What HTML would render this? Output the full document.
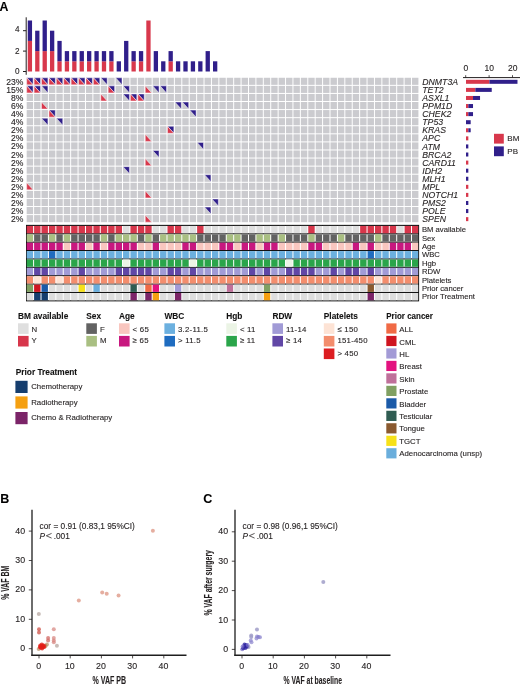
<!DOCTYPE html>
<html><head><meta charset="utf-8"><style>
html,body{margin:0;padding:0;background:#fff;width:520px;height:687px;overflow:hidden;}
body{position:relative;font-family:"Liberation Sans", sans-serif;}
text{stroke:#231f20;stroke-width:0.18px;stroke-opacity:0.6}
svg{will-change:transform}
</style></head><body>
<svg width="520" height="687" viewBox="0 0 520 687" style="position:absolute;left:0;top:0;font-family:'Liberation Sans', sans-serif">
<rect width="520" height="687" fill="#fff"/>
<text x="-0.4" y="10.8" font-size="12.3" font-weight="bold" fill="#000">A</text>
<line x1="26.2" y1="17.3" x2="26.2" y2="74.8" stroke="#231f20" stroke-width="1"/>
<line x1="23" y1="71.50" x2="26.2" y2="71.50" stroke="#231f20" stroke-width="1"/>
<text x="19.5" y="73.90" font-size="8.2" text-anchor="end" fill="#231f20">0</text>
<line x1="23" y1="51.10" x2="26.2" y2="51.10" stroke="#231f20" stroke-width="1"/>
<text x="19.5" y="53.90" font-size="8.2" text-anchor="end" fill="#231f20">2</text>
<line x1="23" y1="30.70" x2="26.2" y2="30.70" stroke="#231f20" stroke-width="1"/>
<text x="19.5" y="32.40" font-size="8.2" text-anchor="end" fill="#231f20">4</text>
<rect x="27.75" y="40.90" width="4.3" height="30.60" fill="#d8384c"/>
<rect x="27.75" y="20.50" width="4.3" height="20.40" fill="#301f8a"/>
<rect x="35.16" y="51.10" width="4.3" height="20.40" fill="#d8384c"/>
<rect x="35.16" y="30.70" width="4.3" height="20.40" fill="#301f8a"/>
<rect x="42.57" y="51.10" width="4.3" height="20.40" fill="#d8384c"/>
<rect x="42.57" y="20.50" width="4.3" height="30.60" fill="#301f8a"/>
<rect x="49.98" y="51.10" width="4.3" height="20.40" fill="#d8384c"/>
<rect x="49.98" y="30.70" width="4.3" height="20.40" fill="#301f8a"/>
<rect x="57.38" y="61.30" width="4.3" height="10.20" fill="#d8384c"/>
<rect x="57.38" y="40.90" width="4.3" height="20.40" fill="#301f8a"/>
<rect x="64.79" y="61.30" width="4.3" height="10.20" fill="#d8384c"/>
<rect x="64.79" y="51.10" width="4.3" height="10.20" fill="#301f8a"/>
<rect x="72.20" y="61.30" width="4.3" height="10.20" fill="#d8384c"/>
<rect x="72.20" y="51.10" width="4.3" height="10.20" fill="#301f8a"/>
<rect x="79.61" y="61.30" width="4.3" height="10.20" fill="#d8384c"/>
<rect x="79.61" y="51.10" width="4.3" height="10.20" fill="#301f8a"/>
<rect x="87.02" y="61.30" width="4.3" height="10.20" fill="#d8384c"/>
<rect x="87.02" y="51.10" width="4.3" height="10.20" fill="#301f8a"/>
<rect x="94.43" y="61.30" width="4.3" height="10.20" fill="#d8384c"/>
<rect x="94.43" y="51.10" width="4.3" height="10.20" fill="#301f8a"/>
<rect x="101.84" y="61.30" width="4.3" height="10.20" fill="#d8384c"/>
<rect x="101.84" y="51.10" width="4.3" height="10.20" fill="#301f8a"/>
<rect x="109.25" y="61.30" width="4.3" height="10.20" fill="#d8384c"/>
<rect x="109.25" y="51.10" width="4.3" height="10.20" fill="#301f8a"/>
<rect x="116.66" y="61.30" width="4.3" height="10.20" fill="#301f8a"/>
<rect x="124.07" y="40.90" width="4.3" height="30.60" fill="#301f8a"/>
<rect x="131.49" y="61.30" width="4.3" height="10.20" fill="#d8384c"/>
<rect x="131.49" y="51.10" width="4.3" height="10.20" fill="#301f8a"/>
<rect x="138.90" y="61.30" width="4.3" height="10.20" fill="#d8384c"/>
<rect x="138.90" y="51.10" width="4.3" height="10.20" fill="#301f8a"/>
<rect x="146.31" y="20.50" width="4.3" height="51.00" fill="#d8384c"/>
<rect x="153.72" y="51.10" width="4.3" height="20.40" fill="#301f8a"/>
<rect x="161.12" y="61.30" width="4.3" height="10.20" fill="#301f8a"/>
<rect x="168.53" y="61.30" width="4.3" height="10.20" fill="#d8384c"/>
<rect x="168.53" y="51.10" width="4.3" height="10.20" fill="#301f8a"/>
<rect x="175.94" y="61.30" width="4.3" height="10.20" fill="#301f8a"/>
<rect x="183.36" y="61.30" width="4.3" height="10.20" fill="#301f8a"/>
<rect x="190.77" y="61.30" width="4.3" height="10.20" fill="#301f8a"/>
<rect x="198.18" y="61.30" width="4.3" height="10.20" fill="#301f8a"/>
<rect x="205.59" y="51.10" width="4.3" height="20.40" fill="#301f8a"/>
<rect x="213.00" y="61.30" width="4.3" height="10.20" fill="#301f8a"/>
<rect x="26.69" y="77.77" width="6.41" height="7.08" fill="#cbcbcf"/>
<rect x="34.10" y="77.77" width="6.41" height="7.08" fill="#cbcbcf"/>
<rect x="41.51" y="77.77" width="6.41" height="7.08" fill="#cbcbcf"/>
<rect x="48.92" y="77.77" width="6.41" height="7.08" fill="#cbcbcf"/>
<rect x="56.33" y="77.77" width="6.41" height="7.08" fill="#cbcbcf"/>
<rect x="63.74" y="77.77" width="6.41" height="7.08" fill="#cbcbcf"/>
<rect x="71.15" y="77.77" width="6.41" height="7.08" fill="#cbcbcf"/>
<rect x="78.56" y="77.77" width="6.41" height="7.08" fill="#cbcbcf"/>
<rect x="85.97" y="77.77" width="6.41" height="7.08" fill="#cbcbcf"/>
<rect x="93.38" y="77.77" width="6.41" height="7.08" fill="#cbcbcf"/>
<rect x="100.79" y="77.77" width="6.41" height="7.08" fill="#cbcbcf"/>
<rect x="108.20" y="77.77" width="6.41" height="7.08" fill="#cbcbcf"/>
<rect x="115.61" y="77.77" width="6.41" height="7.08" fill="#cbcbcf"/>
<rect x="123.02" y="77.77" width="6.41" height="7.08" fill="#cbcbcf"/>
<rect x="130.43" y="77.77" width="6.41" height="7.08" fill="#cbcbcf"/>
<rect x="137.84" y="77.77" width="6.41" height="7.08" fill="#cbcbcf"/>
<rect x="145.25" y="77.77" width="6.41" height="7.08" fill="#cbcbcf"/>
<rect x="152.66" y="77.77" width="6.41" height="7.08" fill="#cbcbcf"/>
<rect x="160.07" y="77.77" width="6.41" height="7.08" fill="#cbcbcf"/>
<rect x="167.48" y="77.77" width="6.41" height="7.08" fill="#cbcbcf"/>
<rect x="174.89" y="77.77" width="6.41" height="7.08" fill="#cbcbcf"/>
<rect x="182.30" y="77.77" width="6.41" height="7.08" fill="#cbcbcf"/>
<rect x="189.71" y="77.77" width="6.41" height="7.08" fill="#cbcbcf"/>
<rect x="197.12" y="77.77" width="6.41" height="7.08" fill="#cbcbcf"/>
<rect x="204.53" y="77.77" width="6.41" height="7.08" fill="#cbcbcf"/>
<rect x="211.94" y="77.77" width="6.41" height="7.08" fill="#cbcbcf"/>
<rect x="219.35" y="77.77" width="6.41" height="7.08" fill="#cbcbcf"/>
<rect x="226.76" y="77.77" width="6.41" height="7.08" fill="#cbcbcf"/>
<rect x="234.17" y="77.77" width="6.41" height="7.08" fill="#cbcbcf"/>
<rect x="241.58" y="77.77" width="6.41" height="7.08" fill="#cbcbcf"/>
<rect x="248.99" y="77.77" width="6.41" height="7.08" fill="#cbcbcf"/>
<rect x="256.40" y="77.77" width="6.41" height="7.08" fill="#cbcbcf"/>
<rect x="263.81" y="77.77" width="6.41" height="7.08" fill="#cbcbcf"/>
<rect x="271.22" y="77.77" width="6.41" height="7.08" fill="#cbcbcf"/>
<rect x="278.63" y="77.77" width="6.41" height="7.08" fill="#cbcbcf"/>
<rect x="286.04" y="77.77" width="6.41" height="7.08" fill="#cbcbcf"/>
<rect x="293.45" y="77.77" width="6.41" height="7.08" fill="#cbcbcf"/>
<rect x="300.86" y="77.77" width="6.41" height="7.08" fill="#cbcbcf"/>
<rect x="308.27" y="77.77" width="6.41" height="7.08" fill="#cbcbcf"/>
<rect x="315.68" y="77.77" width="6.41" height="7.08" fill="#cbcbcf"/>
<rect x="323.09" y="77.77" width="6.41" height="7.08" fill="#cbcbcf"/>
<rect x="330.50" y="77.77" width="6.41" height="7.08" fill="#cbcbcf"/>
<rect x="337.91" y="77.77" width="6.41" height="7.08" fill="#cbcbcf"/>
<rect x="345.32" y="77.77" width="6.41" height="7.08" fill="#cbcbcf"/>
<rect x="352.73" y="77.77" width="6.41" height="7.08" fill="#cbcbcf"/>
<rect x="360.14" y="77.77" width="6.41" height="7.08" fill="#cbcbcf"/>
<rect x="367.55" y="77.77" width="6.41" height="7.08" fill="#cbcbcf"/>
<rect x="374.96" y="77.77" width="6.41" height="7.08" fill="#cbcbcf"/>
<rect x="382.37" y="77.77" width="6.41" height="7.08" fill="#cbcbcf"/>
<rect x="389.78" y="77.77" width="6.41" height="7.08" fill="#cbcbcf"/>
<rect x="397.19" y="77.77" width="6.41" height="7.08" fill="#cbcbcf"/>
<rect x="404.60" y="77.77" width="6.41" height="7.08" fill="#cbcbcf"/>
<rect x="412.01" y="77.77" width="6.41" height="7.08" fill="#cbcbcf"/>
<rect x="26.69" y="85.85" width="6.41" height="7.08" fill="#cbcbcf"/>
<rect x="34.10" y="85.85" width="6.41" height="7.08" fill="#cbcbcf"/>
<rect x="41.51" y="85.85" width="6.41" height="7.08" fill="#cbcbcf"/>
<rect x="48.92" y="85.85" width="6.41" height="7.08" fill="#cbcbcf"/>
<rect x="56.33" y="85.85" width="6.41" height="7.08" fill="#cbcbcf"/>
<rect x="63.74" y="85.85" width="6.41" height="7.08" fill="#cbcbcf"/>
<rect x="71.15" y="85.85" width="6.41" height="7.08" fill="#cbcbcf"/>
<rect x="78.56" y="85.85" width="6.41" height="7.08" fill="#cbcbcf"/>
<rect x="85.97" y="85.85" width="6.41" height="7.08" fill="#cbcbcf"/>
<rect x="93.38" y="85.85" width="6.41" height="7.08" fill="#cbcbcf"/>
<rect x="100.79" y="85.85" width="6.41" height="7.08" fill="#cbcbcf"/>
<rect x="108.20" y="85.85" width="6.41" height="7.08" fill="#cbcbcf"/>
<rect x="115.61" y="85.85" width="6.41" height="7.08" fill="#cbcbcf"/>
<rect x="123.02" y="85.85" width="6.41" height="7.08" fill="#cbcbcf"/>
<rect x="130.43" y="85.85" width="6.41" height="7.08" fill="#cbcbcf"/>
<rect x="137.84" y="85.85" width="6.41" height="7.08" fill="#cbcbcf"/>
<rect x="145.25" y="85.85" width="6.41" height="7.08" fill="#cbcbcf"/>
<rect x="152.66" y="85.85" width="6.41" height="7.08" fill="#cbcbcf"/>
<rect x="160.07" y="85.85" width="6.41" height="7.08" fill="#cbcbcf"/>
<rect x="167.48" y="85.85" width="6.41" height="7.08" fill="#cbcbcf"/>
<rect x="174.89" y="85.85" width="6.41" height="7.08" fill="#cbcbcf"/>
<rect x="182.30" y="85.85" width="6.41" height="7.08" fill="#cbcbcf"/>
<rect x="189.71" y="85.85" width="6.41" height="7.08" fill="#cbcbcf"/>
<rect x="197.12" y="85.85" width="6.41" height="7.08" fill="#cbcbcf"/>
<rect x="204.53" y="85.85" width="6.41" height="7.08" fill="#cbcbcf"/>
<rect x="211.94" y="85.85" width="6.41" height="7.08" fill="#cbcbcf"/>
<rect x="219.35" y="85.85" width="6.41" height="7.08" fill="#cbcbcf"/>
<rect x="226.76" y="85.85" width="6.41" height="7.08" fill="#cbcbcf"/>
<rect x="234.17" y="85.85" width="6.41" height="7.08" fill="#cbcbcf"/>
<rect x="241.58" y="85.85" width="6.41" height="7.08" fill="#cbcbcf"/>
<rect x="248.99" y="85.85" width="6.41" height="7.08" fill="#cbcbcf"/>
<rect x="256.40" y="85.85" width="6.41" height="7.08" fill="#cbcbcf"/>
<rect x="263.81" y="85.85" width="6.41" height="7.08" fill="#cbcbcf"/>
<rect x="271.22" y="85.85" width="6.41" height="7.08" fill="#cbcbcf"/>
<rect x="278.63" y="85.85" width="6.41" height="7.08" fill="#cbcbcf"/>
<rect x="286.04" y="85.85" width="6.41" height="7.08" fill="#cbcbcf"/>
<rect x="293.45" y="85.85" width="6.41" height="7.08" fill="#cbcbcf"/>
<rect x="300.86" y="85.85" width="6.41" height="7.08" fill="#cbcbcf"/>
<rect x="308.27" y="85.85" width="6.41" height="7.08" fill="#cbcbcf"/>
<rect x="315.68" y="85.85" width="6.41" height="7.08" fill="#cbcbcf"/>
<rect x="323.09" y="85.85" width="6.41" height="7.08" fill="#cbcbcf"/>
<rect x="330.50" y="85.85" width="6.41" height="7.08" fill="#cbcbcf"/>
<rect x="337.91" y="85.85" width="6.41" height="7.08" fill="#cbcbcf"/>
<rect x="345.32" y="85.85" width="6.41" height="7.08" fill="#cbcbcf"/>
<rect x="352.73" y="85.85" width="6.41" height="7.08" fill="#cbcbcf"/>
<rect x="360.14" y="85.85" width="6.41" height="7.08" fill="#cbcbcf"/>
<rect x="367.55" y="85.85" width="6.41" height="7.08" fill="#cbcbcf"/>
<rect x="374.96" y="85.85" width="6.41" height="7.08" fill="#cbcbcf"/>
<rect x="382.37" y="85.85" width="6.41" height="7.08" fill="#cbcbcf"/>
<rect x="389.78" y="85.85" width="6.41" height="7.08" fill="#cbcbcf"/>
<rect x="397.19" y="85.85" width="6.41" height="7.08" fill="#cbcbcf"/>
<rect x="404.60" y="85.85" width="6.41" height="7.08" fill="#cbcbcf"/>
<rect x="412.01" y="85.85" width="6.41" height="7.08" fill="#cbcbcf"/>
<rect x="26.69" y="93.93" width="6.41" height="7.08" fill="#cbcbcf"/>
<rect x="34.10" y="93.93" width="6.41" height="7.08" fill="#cbcbcf"/>
<rect x="41.51" y="93.93" width="6.41" height="7.08" fill="#cbcbcf"/>
<rect x="48.92" y="93.93" width="6.41" height="7.08" fill="#cbcbcf"/>
<rect x="56.33" y="93.93" width="6.41" height="7.08" fill="#cbcbcf"/>
<rect x="63.74" y="93.93" width="6.41" height="7.08" fill="#cbcbcf"/>
<rect x="71.15" y="93.93" width="6.41" height="7.08" fill="#cbcbcf"/>
<rect x="78.56" y="93.93" width="6.41" height="7.08" fill="#cbcbcf"/>
<rect x="85.97" y="93.93" width="6.41" height="7.08" fill="#cbcbcf"/>
<rect x="93.38" y="93.93" width="6.41" height="7.08" fill="#cbcbcf"/>
<rect x="100.79" y="93.93" width="6.41" height="7.08" fill="#cbcbcf"/>
<rect x="108.20" y="93.93" width="6.41" height="7.08" fill="#cbcbcf"/>
<rect x="115.61" y="93.93" width="6.41" height="7.08" fill="#cbcbcf"/>
<rect x="123.02" y="93.93" width="6.41" height="7.08" fill="#cbcbcf"/>
<rect x="130.43" y="93.93" width="6.41" height="7.08" fill="#cbcbcf"/>
<rect x="137.84" y="93.93" width="6.41" height="7.08" fill="#cbcbcf"/>
<rect x="145.25" y="93.93" width="6.41" height="7.08" fill="#cbcbcf"/>
<rect x="152.66" y="93.93" width="6.41" height="7.08" fill="#cbcbcf"/>
<rect x="160.07" y="93.93" width="6.41" height="7.08" fill="#cbcbcf"/>
<rect x="167.48" y="93.93" width="6.41" height="7.08" fill="#cbcbcf"/>
<rect x="174.89" y="93.93" width="6.41" height="7.08" fill="#cbcbcf"/>
<rect x="182.30" y="93.93" width="6.41" height="7.08" fill="#cbcbcf"/>
<rect x="189.71" y="93.93" width="6.41" height="7.08" fill="#cbcbcf"/>
<rect x="197.12" y="93.93" width="6.41" height="7.08" fill="#cbcbcf"/>
<rect x="204.53" y="93.93" width="6.41" height="7.08" fill="#cbcbcf"/>
<rect x="211.94" y="93.93" width="6.41" height="7.08" fill="#cbcbcf"/>
<rect x="219.35" y="93.93" width="6.41" height="7.08" fill="#cbcbcf"/>
<rect x="226.76" y="93.93" width="6.41" height="7.08" fill="#cbcbcf"/>
<rect x="234.17" y="93.93" width="6.41" height="7.08" fill="#cbcbcf"/>
<rect x="241.58" y="93.93" width="6.41" height="7.08" fill="#cbcbcf"/>
<rect x="248.99" y="93.93" width="6.41" height="7.08" fill="#cbcbcf"/>
<rect x="256.40" y="93.93" width="6.41" height="7.08" fill="#cbcbcf"/>
<rect x="263.81" y="93.93" width="6.41" height="7.08" fill="#cbcbcf"/>
<rect x="271.22" y="93.93" width="6.41" height="7.08" fill="#cbcbcf"/>
<rect x="278.63" y="93.93" width="6.41" height="7.08" fill="#cbcbcf"/>
<rect x="286.04" y="93.93" width="6.41" height="7.08" fill="#cbcbcf"/>
<rect x="293.45" y="93.93" width="6.41" height="7.08" fill="#cbcbcf"/>
<rect x="300.86" y="93.93" width="6.41" height="7.08" fill="#cbcbcf"/>
<rect x="308.27" y="93.93" width="6.41" height="7.08" fill="#cbcbcf"/>
<rect x="315.68" y="93.93" width="6.41" height="7.08" fill="#cbcbcf"/>
<rect x="323.09" y="93.93" width="6.41" height="7.08" fill="#cbcbcf"/>
<rect x="330.50" y="93.93" width="6.41" height="7.08" fill="#cbcbcf"/>
<rect x="337.91" y="93.93" width="6.41" height="7.08" fill="#cbcbcf"/>
<rect x="345.32" y="93.93" width="6.41" height="7.08" fill="#cbcbcf"/>
<rect x="352.73" y="93.93" width="6.41" height="7.08" fill="#cbcbcf"/>
<rect x="360.14" y="93.93" width="6.41" height="7.08" fill="#cbcbcf"/>
<rect x="367.55" y="93.93" width="6.41" height="7.08" fill="#cbcbcf"/>
<rect x="374.96" y="93.93" width="6.41" height="7.08" fill="#cbcbcf"/>
<rect x="382.37" y="93.93" width="6.41" height="7.08" fill="#cbcbcf"/>
<rect x="389.78" y="93.93" width="6.41" height="7.08" fill="#cbcbcf"/>
<rect x="397.19" y="93.93" width="6.41" height="7.08" fill="#cbcbcf"/>
<rect x="404.60" y="93.93" width="6.41" height="7.08" fill="#cbcbcf"/>
<rect x="412.01" y="93.93" width="6.41" height="7.08" fill="#cbcbcf"/>
<rect x="26.69" y="102.00" width="6.41" height="7.08" fill="#cbcbcf"/>
<rect x="34.10" y="102.00" width="6.41" height="7.08" fill="#cbcbcf"/>
<rect x="41.51" y="102.00" width="6.41" height="7.08" fill="#cbcbcf"/>
<rect x="48.92" y="102.00" width="6.41" height="7.08" fill="#cbcbcf"/>
<rect x="56.33" y="102.00" width="6.41" height="7.08" fill="#cbcbcf"/>
<rect x="63.74" y="102.00" width="6.41" height="7.08" fill="#cbcbcf"/>
<rect x="71.15" y="102.00" width="6.41" height="7.08" fill="#cbcbcf"/>
<rect x="78.56" y="102.00" width="6.41" height="7.08" fill="#cbcbcf"/>
<rect x="85.97" y="102.00" width="6.41" height="7.08" fill="#cbcbcf"/>
<rect x="93.38" y="102.00" width="6.41" height="7.08" fill="#cbcbcf"/>
<rect x="100.79" y="102.00" width="6.41" height="7.08" fill="#cbcbcf"/>
<rect x="108.20" y="102.00" width="6.41" height="7.08" fill="#cbcbcf"/>
<rect x="115.61" y="102.00" width="6.41" height="7.08" fill="#cbcbcf"/>
<rect x="123.02" y="102.00" width="6.41" height="7.08" fill="#cbcbcf"/>
<rect x="130.43" y="102.00" width="6.41" height="7.08" fill="#cbcbcf"/>
<rect x="137.84" y="102.00" width="6.41" height="7.08" fill="#cbcbcf"/>
<rect x="145.25" y="102.00" width="6.41" height="7.08" fill="#cbcbcf"/>
<rect x="152.66" y="102.00" width="6.41" height="7.08" fill="#cbcbcf"/>
<rect x="160.07" y="102.00" width="6.41" height="7.08" fill="#cbcbcf"/>
<rect x="167.48" y="102.00" width="6.41" height="7.08" fill="#cbcbcf"/>
<rect x="174.89" y="102.00" width="6.41" height="7.08" fill="#cbcbcf"/>
<rect x="182.30" y="102.00" width="6.41" height="7.08" fill="#cbcbcf"/>
<rect x="189.71" y="102.00" width="6.41" height="7.08" fill="#cbcbcf"/>
<rect x="197.12" y="102.00" width="6.41" height="7.08" fill="#cbcbcf"/>
<rect x="204.53" y="102.00" width="6.41" height="7.08" fill="#cbcbcf"/>
<rect x="211.94" y="102.00" width="6.41" height="7.08" fill="#cbcbcf"/>
<rect x="219.35" y="102.00" width="6.41" height="7.08" fill="#cbcbcf"/>
<rect x="226.76" y="102.00" width="6.41" height="7.08" fill="#cbcbcf"/>
<rect x="234.17" y="102.00" width="6.41" height="7.08" fill="#cbcbcf"/>
<rect x="241.58" y="102.00" width="6.41" height="7.08" fill="#cbcbcf"/>
<rect x="248.99" y="102.00" width="6.41" height="7.08" fill="#cbcbcf"/>
<rect x="256.40" y="102.00" width="6.41" height="7.08" fill="#cbcbcf"/>
<rect x="263.81" y="102.00" width="6.41" height="7.08" fill="#cbcbcf"/>
<rect x="271.22" y="102.00" width="6.41" height="7.08" fill="#cbcbcf"/>
<rect x="278.63" y="102.00" width="6.41" height="7.08" fill="#cbcbcf"/>
<rect x="286.04" y="102.00" width="6.41" height="7.08" fill="#cbcbcf"/>
<rect x="293.45" y="102.00" width="6.41" height="7.08" fill="#cbcbcf"/>
<rect x="300.86" y="102.00" width="6.41" height="7.08" fill="#cbcbcf"/>
<rect x="308.27" y="102.00" width="6.41" height="7.08" fill="#cbcbcf"/>
<rect x="315.68" y="102.00" width="6.41" height="7.08" fill="#cbcbcf"/>
<rect x="323.09" y="102.00" width="6.41" height="7.08" fill="#cbcbcf"/>
<rect x="330.50" y="102.00" width="6.41" height="7.08" fill="#cbcbcf"/>
<rect x="337.91" y="102.00" width="6.41" height="7.08" fill="#cbcbcf"/>
<rect x="345.32" y="102.00" width="6.41" height="7.08" fill="#cbcbcf"/>
<rect x="352.73" y="102.00" width="6.41" height="7.08" fill="#cbcbcf"/>
<rect x="360.14" y="102.00" width="6.41" height="7.08" fill="#cbcbcf"/>
<rect x="367.55" y="102.00" width="6.41" height="7.08" fill="#cbcbcf"/>
<rect x="374.96" y="102.00" width="6.41" height="7.08" fill="#cbcbcf"/>
<rect x="382.37" y="102.00" width="6.41" height="7.08" fill="#cbcbcf"/>
<rect x="389.78" y="102.00" width="6.41" height="7.08" fill="#cbcbcf"/>
<rect x="397.19" y="102.00" width="6.41" height="7.08" fill="#cbcbcf"/>
<rect x="404.60" y="102.00" width="6.41" height="7.08" fill="#cbcbcf"/>
<rect x="412.01" y="102.00" width="6.41" height="7.08" fill="#cbcbcf"/>
<rect x="26.69" y="110.08" width="6.41" height="7.08" fill="#cbcbcf"/>
<rect x="34.10" y="110.08" width="6.41" height="7.08" fill="#cbcbcf"/>
<rect x="41.51" y="110.08" width="6.41" height="7.08" fill="#cbcbcf"/>
<rect x="48.92" y="110.08" width="6.41" height="7.08" fill="#cbcbcf"/>
<rect x="56.33" y="110.08" width="6.41" height="7.08" fill="#cbcbcf"/>
<rect x="63.74" y="110.08" width="6.41" height="7.08" fill="#cbcbcf"/>
<rect x="71.15" y="110.08" width="6.41" height="7.08" fill="#cbcbcf"/>
<rect x="78.56" y="110.08" width="6.41" height="7.08" fill="#cbcbcf"/>
<rect x="85.97" y="110.08" width="6.41" height="7.08" fill="#cbcbcf"/>
<rect x="93.38" y="110.08" width="6.41" height="7.08" fill="#cbcbcf"/>
<rect x="100.79" y="110.08" width="6.41" height="7.08" fill="#cbcbcf"/>
<rect x="108.20" y="110.08" width="6.41" height="7.08" fill="#cbcbcf"/>
<rect x="115.61" y="110.08" width="6.41" height="7.08" fill="#cbcbcf"/>
<rect x="123.02" y="110.08" width="6.41" height="7.08" fill="#cbcbcf"/>
<rect x="130.43" y="110.08" width="6.41" height="7.08" fill="#cbcbcf"/>
<rect x="137.84" y="110.08" width="6.41" height="7.08" fill="#cbcbcf"/>
<rect x="145.25" y="110.08" width="6.41" height="7.08" fill="#cbcbcf"/>
<rect x="152.66" y="110.08" width="6.41" height="7.08" fill="#cbcbcf"/>
<rect x="160.07" y="110.08" width="6.41" height="7.08" fill="#cbcbcf"/>
<rect x="167.48" y="110.08" width="6.41" height="7.08" fill="#cbcbcf"/>
<rect x="174.89" y="110.08" width="6.41" height="7.08" fill="#cbcbcf"/>
<rect x="182.30" y="110.08" width="6.41" height="7.08" fill="#cbcbcf"/>
<rect x="189.71" y="110.08" width="6.41" height="7.08" fill="#cbcbcf"/>
<rect x="197.12" y="110.08" width="6.41" height="7.08" fill="#cbcbcf"/>
<rect x="204.53" y="110.08" width="6.41" height="7.08" fill="#cbcbcf"/>
<rect x="211.94" y="110.08" width="6.41" height="7.08" fill="#cbcbcf"/>
<rect x="219.35" y="110.08" width="6.41" height="7.08" fill="#cbcbcf"/>
<rect x="226.76" y="110.08" width="6.41" height="7.08" fill="#cbcbcf"/>
<rect x="234.17" y="110.08" width="6.41" height="7.08" fill="#cbcbcf"/>
<rect x="241.58" y="110.08" width="6.41" height="7.08" fill="#cbcbcf"/>
<rect x="248.99" y="110.08" width="6.41" height="7.08" fill="#cbcbcf"/>
<rect x="256.40" y="110.08" width="6.41" height="7.08" fill="#cbcbcf"/>
<rect x="263.81" y="110.08" width="6.41" height="7.08" fill="#cbcbcf"/>
<rect x="271.22" y="110.08" width="6.41" height="7.08" fill="#cbcbcf"/>
<rect x="278.63" y="110.08" width="6.41" height="7.08" fill="#cbcbcf"/>
<rect x="286.04" y="110.08" width="6.41" height="7.08" fill="#cbcbcf"/>
<rect x="293.45" y="110.08" width="6.41" height="7.08" fill="#cbcbcf"/>
<rect x="300.86" y="110.08" width="6.41" height="7.08" fill="#cbcbcf"/>
<rect x="308.27" y="110.08" width="6.41" height="7.08" fill="#cbcbcf"/>
<rect x="315.68" y="110.08" width="6.41" height="7.08" fill="#cbcbcf"/>
<rect x="323.09" y="110.08" width="6.41" height="7.08" fill="#cbcbcf"/>
<rect x="330.50" y="110.08" width="6.41" height="7.08" fill="#cbcbcf"/>
<rect x="337.91" y="110.08" width="6.41" height="7.08" fill="#cbcbcf"/>
<rect x="345.32" y="110.08" width="6.41" height="7.08" fill="#cbcbcf"/>
<rect x="352.73" y="110.08" width="6.41" height="7.08" fill="#cbcbcf"/>
<rect x="360.14" y="110.08" width="6.41" height="7.08" fill="#cbcbcf"/>
<rect x="367.55" y="110.08" width="6.41" height="7.08" fill="#cbcbcf"/>
<rect x="374.96" y="110.08" width="6.41" height="7.08" fill="#cbcbcf"/>
<rect x="382.37" y="110.08" width="6.41" height="7.08" fill="#cbcbcf"/>
<rect x="389.78" y="110.08" width="6.41" height="7.08" fill="#cbcbcf"/>
<rect x="397.19" y="110.08" width="6.41" height="7.08" fill="#cbcbcf"/>
<rect x="404.60" y="110.08" width="6.41" height="7.08" fill="#cbcbcf"/>
<rect x="412.01" y="110.08" width="6.41" height="7.08" fill="#cbcbcf"/>
<rect x="26.69" y="118.16" width="6.41" height="7.08" fill="#cbcbcf"/>
<rect x="34.10" y="118.16" width="6.41" height="7.08" fill="#cbcbcf"/>
<rect x="41.51" y="118.16" width="6.41" height="7.08" fill="#cbcbcf"/>
<rect x="48.92" y="118.16" width="6.41" height="7.08" fill="#cbcbcf"/>
<rect x="56.33" y="118.16" width="6.41" height="7.08" fill="#cbcbcf"/>
<rect x="63.74" y="118.16" width="6.41" height="7.08" fill="#cbcbcf"/>
<rect x="71.15" y="118.16" width="6.41" height="7.08" fill="#cbcbcf"/>
<rect x="78.56" y="118.16" width="6.41" height="7.08" fill="#cbcbcf"/>
<rect x="85.97" y="118.16" width="6.41" height="7.08" fill="#cbcbcf"/>
<rect x="93.38" y="118.16" width="6.41" height="7.08" fill="#cbcbcf"/>
<rect x="100.79" y="118.16" width="6.41" height="7.08" fill="#cbcbcf"/>
<rect x="108.20" y="118.16" width="6.41" height="7.08" fill="#cbcbcf"/>
<rect x="115.61" y="118.16" width="6.41" height="7.08" fill="#cbcbcf"/>
<rect x="123.02" y="118.16" width="6.41" height="7.08" fill="#cbcbcf"/>
<rect x="130.43" y="118.16" width="6.41" height="7.08" fill="#cbcbcf"/>
<rect x="137.84" y="118.16" width="6.41" height="7.08" fill="#cbcbcf"/>
<rect x="145.25" y="118.16" width="6.41" height="7.08" fill="#cbcbcf"/>
<rect x="152.66" y="118.16" width="6.41" height="7.08" fill="#cbcbcf"/>
<rect x="160.07" y="118.16" width="6.41" height="7.08" fill="#cbcbcf"/>
<rect x="167.48" y="118.16" width="6.41" height="7.08" fill="#cbcbcf"/>
<rect x="174.89" y="118.16" width="6.41" height="7.08" fill="#cbcbcf"/>
<rect x="182.30" y="118.16" width="6.41" height="7.08" fill="#cbcbcf"/>
<rect x="189.71" y="118.16" width="6.41" height="7.08" fill="#cbcbcf"/>
<rect x="197.12" y="118.16" width="6.41" height="7.08" fill="#cbcbcf"/>
<rect x="204.53" y="118.16" width="6.41" height="7.08" fill="#cbcbcf"/>
<rect x="211.94" y="118.16" width="6.41" height="7.08" fill="#cbcbcf"/>
<rect x="219.35" y="118.16" width="6.41" height="7.08" fill="#cbcbcf"/>
<rect x="226.76" y="118.16" width="6.41" height="7.08" fill="#cbcbcf"/>
<rect x="234.17" y="118.16" width="6.41" height="7.08" fill="#cbcbcf"/>
<rect x="241.58" y="118.16" width="6.41" height="7.08" fill="#cbcbcf"/>
<rect x="248.99" y="118.16" width="6.41" height="7.08" fill="#cbcbcf"/>
<rect x="256.40" y="118.16" width="6.41" height="7.08" fill="#cbcbcf"/>
<rect x="263.81" y="118.16" width="6.41" height="7.08" fill="#cbcbcf"/>
<rect x="271.22" y="118.16" width="6.41" height="7.08" fill="#cbcbcf"/>
<rect x="278.63" y="118.16" width="6.41" height="7.08" fill="#cbcbcf"/>
<rect x="286.04" y="118.16" width="6.41" height="7.08" fill="#cbcbcf"/>
<rect x="293.45" y="118.16" width="6.41" height="7.08" fill="#cbcbcf"/>
<rect x="300.86" y="118.16" width="6.41" height="7.08" fill="#cbcbcf"/>
<rect x="308.27" y="118.16" width="6.41" height="7.08" fill="#cbcbcf"/>
<rect x="315.68" y="118.16" width="6.41" height="7.08" fill="#cbcbcf"/>
<rect x="323.09" y="118.16" width="6.41" height="7.08" fill="#cbcbcf"/>
<rect x="330.50" y="118.16" width="6.41" height="7.08" fill="#cbcbcf"/>
<rect x="337.91" y="118.16" width="6.41" height="7.08" fill="#cbcbcf"/>
<rect x="345.32" y="118.16" width="6.41" height="7.08" fill="#cbcbcf"/>
<rect x="352.73" y="118.16" width="6.41" height="7.08" fill="#cbcbcf"/>
<rect x="360.14" y="118.16" width="6.41" height="7.08" fill="#cbcbcf"/>
<rect x="367.55" y="118.16" width="6.41" height="7.08" fill="#cbcbcf"/>
<rect x="374.96" y="118.16" width="6.41" height="7.08" fill="#cbcbcf"/>
<rect x="382.37" y="118.16" width="6.41" height="7.08" fill="#cbcbcf"/>
<rect x="389.78" y="118.16" width="6.41" height="7.08" fill="#cbcbcf"/>
<rect x="397.19" y="118.16" width="6.41" height="7.08" fill="#cbcbcf"/>
<rect x="404.60" y="118.16" width="6.41" height="7.08" fill="#cbcbcf"/>
<rect x="412.01" y="118.16" width="6.41" height="7.08" fill="#cbcbcf"/>
<rect x="26.69" y="126.24" width="6.41" height="7.08" fill="#cbcbcf"/>
<rect x="34.10" y="126.24" width="6.41" height="7.08" fill="#cbcbcf"/>
<rect x="41.51" y="126.24" width="6.41" height="7.08" fill="#cbcbcf"/>
<rect x="48.92" y="126.24" width="6.41" height="7.08" fill="#cbcbcf"/>
<rect x="56.33" y="126.24" width="6.41" height="7.08" fill="#cbcbcf"/>
<rect x="63.74" y="126.24" width="6.41" height="7.08" fill="#cbcbcf"/>
<rect x="71.15" y="126.24" width="6.41" height="7.08" fill="#cbcbcf"/>
<rect x="78.56" y="126.24" width="6.41" height="7.08" fill="#cbcbcf"/>
<rect x="85.97" y="126.24" width="6.41" height="7.08" fill="#cbcbcf"/>
<rect x="93.38" y="126.24" width="6.41" height="7.08" fill="#cbcbcf"/>
<rect x="100.79" y="126.24" width="6.41" height="7.08" fill="#cbcbcf"/>
<rect x="108.20" y="126.24" width="6.41" height="7.08" fill="#cbcbcf"/>
<rect x="115.61" y="126.24" width="6.41" height="7.08" fill="#cbcbcf"/>
<rect x="123.02" y="126.24" width="6.41" height="7.08" fill="#cbcbcf"/>
<rect x="130.43" y="126.24" width="6.41" height="7.08" fill="#cbcbcf"/>
<rect x="137.84" y="126.24" width="6.41" height="7.08" fill="#cbcbcf"/>
<rect x="145.25" y="126.24" width="6.41" height="7.08" fill="#cbcbcf"/>
<rect x="152.66" y="126.24" width="6.41" height="7.08" fill="#cbcbcf"/>
<rect x="160.07" y="126.24" width="6.41" height="7.08" fill="#cbcbcf"/>
<rect x="167.48" y="126.24" width="6.41" height="7.08" fill="#cbcbcf"/>
<rect x="174.89" y="126.24" width="6.41" height="7.08" fill="#cbcbcf"/>
<rect x="182.30" y="126.24" width="6.41" height="7.08" fill="#cbcbcf"/>
<rect x="189.71" y="126.24" width="6.41" height="7.08" fill="#cbcbcf"/>
<rect x="197.12" y="126.24" width="6.41" height="7.08" fill="#cbcbcf"/>
<rect x="204.53" y="126.24" width="6.41" height="7.08" fill="#cbcbcf"/>
<rect x="211.94" y="126.24" width="6.41" height="7.08" fill="#cbcbcf"/>
<rect x="219.35" y="126.24" width="6.41" height="7.08" fill="#cbcbcf"/>
<rect x="226.76" y="126.24" width="6.41" height="7.08" fill="#cbcbcf"/>
<rect x="234.17" y="126.24" width="6.41" height="7.08" fill="#cbcbcf"/>
<rect x="241.58" y="126.24" width="6.41" height="7.08" fill="#cbcbcf"/>
<rect x="248.99" y="126.24" width="6.41" height="7.08" fill="#cbcbcf"/>
<rect x="256.40" y="126.24" width="6.41" height="7.08" fill="#cbcbcf"/>
<rect x="263.81" y="126.24" width="6.41" height="7.08" fill="#cbcbcf"/>
<rect x="271.22" y="126.24" width="6.41" height="7.08" fill="#cbcbcf"/>
<rect x="278.63" y="126.24" width="6.41" height="7.08" fill="#cbcbcf"/>
<rect x="286.04" y="126.24" width="6.41" height="7.08" fill="#cbcbcf"/>
<rect x="293.45" y="126.24" width="6.41" height="7.08" fill="#cbcbcf"/>
<rect x="300.86" y="126.24" width="6.41" height="7.08" fill="#cbcbcf"/>
<rect x="308.27" y="126.24" width="6.41" height="7.08" fill="#cbcbcf"/>
<rect x="315.68" y="126.24" width="6.41" height="7.08" fill="#cbcbcf"/>
<rect x="323.09" y="126.24" width="6.41" height="7.08" fill="#cbcbcf"/>
<rect x="330.50" y="126.24" width="6.41" height="7.08" fill="#cbcbcf"/>
<rect x="337.91" y="126.24" width="6.41" height="7.08" fill="#cbcbcf"/>
<rect x="345.32" y="126.24" width="6.41" height="7.08" fill="#cbcbcf"/>
<rect x="352.73" y="126.24" width="6.41" height="7.08" fill="#cbcbcf"/>
<rect x="360.14" y="126.24" width="6.41" height="7.08" fill="#cbcbcf"/>
<rect x="367.55" y="126.24" width="6.41" height="7.08" fill="#cbcbcf"/>
<rect x="374.96" y="126.24" width="6.41" height="7.08" fill="#cbcbcf"/>
<rect x="382.37" y="126.24" width="6.41" height="7.08" fill="#cbcbcf"/>
<rect x="389.78" y="126.24" width="6.41" height="7.08" fill="#cbcbcf"/>
<rect x="397.19" y="126.24" width="6.41" height="7.08" fill="#cbcbcf"/>
<rect x="404.60" y="126.24" width="6.41" height="7.08" fill="#cbcbcf"/>
<rect x="412.01" y="126.24" width="6.41" height="7.08" fill="#cbcbcf"/>
<rect x="26.69" y="134.32" width="6.41" height="7.08" fill="#cbcbcf"/>
<rect x="34.10" y="134.32" width="6.41" height="7.08" fill="#cbcbcf"/>
<rect x="41.51" y="134.32" width="6.41" height="7.08" fill="#cbcbcf"/>
<rect x="48.92" y="134.32" width="6.41" height="7.08" fill="#cbcbcf"/>
<rect x="56.33" y="134.32" width="6.41" height="7.08" fill="#cbcbcf"/>
<rect x="63.74" y="134.32" width="6.41" height="7.08" fill="#cbcbcf"/>
<rect x="71.15" y="134.32" width="6.41" height="7.08" fill="#cbcbcf"/>
<rect x="78.56" y="134.32" width="6.41" height="7.08" fill="#cbcbcf"/>
<rect x="85.97" y="134.32" width="6.41" height="7.08" fill="#cbcbcf"/>
<rect x="93.38" y="134.32" width="6.41" height="7.08" fill="#cbcbcf"/>
<rect x="100.79" y="134.32" width="6.41" height="7.08" fill="#cbcbcf"/>
<rect x="108.20" y="134.32" width="6.41" height="7.08" fill="#cbcbcf"/>
<rect x="115.61" y="134.32" width="6.41" height="7.08" fill="#cbcbcf"/>
<rect x="123.02" y="134.32" width="6.41" height="7.08" fill="#cbcbcf"/>
<rect x="130.43" y="134.32" width="6.41" height="7.08" fill="#cbcbcf"/>
<rect x="137.84" y="134.32" width="6.41" height="7.08" fill="#cbcbcf"/>
<rect x="145.25" y="134.32" width="6.41" height="7.08" fill="#cbcbcf"/>
<rect x="152.66" y="134.32" width="6.41" height="7.08" fill="#cbcbcf"/>
<rect x="160.07" y="134.32" width="6.41" height="7.08" fill="#cbcbcf"/>
<rect x="167.48" y="134.32" width="6.41" height="7.08" fill="#cbcbcf"/>
<rect x="174.89" y="134.32" width="6.41" height="7.08" fill="#cbcbcf"/>
<rect x="182.30" y="134.32" width="6.41" height="7.08" fill="#cbcbcf"/>
<rect x="189.71" y="134.32" width="6.41" height="7.08" fill="#cbcbcf"/>
<rect x="197.12" y="134.32" width="6.41" height="7.08" fill="#cbcbcf"/>
<rect x="204.53" y="134.32" width="6.41" height="7.08" fill="#cbcbcf"/>
<rect x="211.94" y="134.32" width="6.41" height="7.08" fill="#cbcbcf"/>
<rect x="219.35" y="134.32" width="6.41" height="7.08" fill="#cbcbcf"/>
<rect x="226.76" y="134.32" width="6.41" height="7.08" fill="#cbcbcf"/>
<rect x="234.17" y="134.32" width="6.41" height="7.08" fill="#cbcbcf"/>
<rect x="241.58" y="134.32" width="6.41" height="7.08" fill="#cbcbcf"/>
<rect x="248.99" y="134.32" width="6.41" height="7.08" fill="#cbcbcf"/>
<rect x="256.40" y="134.32" width="6.41" height="7.08" fill="#cbcbcf"/>
<rect x="263.81" y="134.32" width="6.41" height="7.08" fill="#cbcbcf"/>
<rect x="271.22" y="134.32" width="6.41" height="7.08" fill="#cbcbcf"/>
<rect x="278.63" y="134.32" width="6.41" height="7.08" fill="#cbcbcf"/>
<rect x="286.04" y="134.32" width="6.41" height="7.08" fill="#cbcbcf"/>
<rect x="293.45" y="134.32" width="6.41" height="7.08" fill="#cbcbcf"/>
<rect x="300.86" y="134.32" width="6.41" height="7.08" fill="#cbcbcf"/>
<rect x="308.27" y="134.32" width="6.41" height="7.08" fill="#cbcbcf"/>
<rect x="315.68" y="134.32" width="6.41" height="7.08" fill="#cbcbcf"/>
<rect x="323.09" y="134.32" width="6.41" height="7.08" fill="#cbcbcf"/>
<rect x="330.50" y="134.32" width="6.41" height="7.08" fill="#cbcbcf"/>
<rect x="337.91" y="134.32" width="6.41" height="7.08" fill="#cbcbcf"/>
<rect x="345.32" y="134.32" width="6.41" height="7.08" fill="#cbcbcf"/>
<rect x="352.73" y="134.32" width="6.41" height="7.08" fill="#cbcbcf"/>
<rect x="360.14" y="134.32" width="6.41" height="7.08" fill="#cbcbcf"/>
<rect x="367.55" y="134.32" width="6.41" height="7.08" fill="#cbcbcf"/>
<rect x="374.96" y="134.32" width="6.41" height="7.08" fill="#cbcbcf"/>
<rect x="382.37" y="134.32" width="6.41" height="7.08" fill="#cbcbcf"/>
<rect x="389.78" y="134.32" width="6.41" height="7.08" fill="#cbcbcf"/>
<rect x="397.19" y="134.32" width="6.41" height="7.08" fill="#cbcbcf"/>
<rect x="404.60" y="134.32" width="6.41" height="7.08" fill="#cbcbcf"/>
<rect x="412.01" y="134.32" width="6.41" height="7.08" fill="#cbcbcf"/>
<rect x="26.69" y="142.39" width="6.41" height="7.08" fill="#cbcbcf"/>
<rect x="34.10" y="142.39" width="6.41" height="7.08" fill="#cbcbcf"/>
<rect x="41.51" y="142.39" width="6.41" height="7.08" fill="#cbcbcf"/>
<rect x="48.92" y="142.39" width="6.41" height="7.08" fill="#cbcbcf"/>
<rect x="56.33" y="142.39" width="6.41" height="7.08" fill="#cbcbcf"/>
<rect x="63.74" y="142.39" width="6.41" height="7.08" fill="#cbcbcf"/>
<rect x="71.15" y="142.39" width="6.41" height="7.08" fill="#cbcbcf"/>
<rect x="78.56" y="142.39" width="6.41" height="7.08" fill="#cbcbcf"/>
<rect x="85.97" y="142.39" width="6.41" height="7.08" fill="#cbcbcf"/>
<rect x="93.38" y="142.39" width="6.41" height="7.08" fill="#cbcbcf"/>
<rect x="100.79" y="142.39" width="6.41" height="7.08" fill="#cbcbcf"/>
<rect x="108.20" y="142.39" width="6.41" height="7.08" fill="#cbcbcf"/>
<rect x="115.61" y="142.39" width="6.41" height="7.08" fill="#cbcbcf"/>
<rect x="123.02" y="142.39" width="6.41" height="7.08" fill="#cbcbcf"/>
<rect x="130.43" y="142.39" width="6.41" height="7.08" fill="#cbcbcf"/>
<rect x="137.84" y="142.39" width="6.41" height="7.08" fill="#cbcbcf"/>
<rect x="145.25" y="142.39" width="6.41" height="7.08" fill="#cbcbcf"/>
<rect x="152.66" y="142.39" width="6.41" height="7.08" fill="#cbcbcf"/>
<rect x="160.07" y="142.39" width="6.41" height="7.08" fill="#cbcbcf"/>
<rect x="167.48" y="142.39" width="6.41" height="7.08" fill="#cbcbcf"/>
<rect x="174.89" y="142.39" width="6.41" height="7.08" fill="#cbcbcf"/>
<rect x="182.30" y="142.39" width="6.41" height="7.08" fill="#cbcbcf"/>
<rect x="189.71" y="142.39" width="6.41" height="7.08" fill="#cbcbcf"/>
<rect x="197.12" y="142.39" width="6.41" height="7.08" fill="#cbcbcf"/>
<rect x="204.53" y="142.39" width="6.41" height="7.08" fill="#cbcbcf"/>
<rect x="211.94" y="142.39" width="6.41" height="7.08" fill="#cbcbcf"/>
<rect x="219.35" y="142.39" width="6.41" height="7.08" fill="#cbcbcf"/>
<rect x="226.76" y="142.39" width="6.41" height="7.08" fill="#cbcbcf"/>
<rect x="234.17" y="142.39" width="6.41" height="7.08" fill="#cbcbcf"/>
<rect x="241.58" y="142.39" width="6.41" height="7.08" fill="#cbcbcf"/>
<rect x="248.99" y="142.39" width="6.41" height="7.08" fill="#cbcbcf"/>
<rect x="256.40" y="142.39" width="6.41" height="7.08" fill="#cbcbcf"/>
<rect x="263.81" y="142.39" width="6.41" height="7.08" fill="#cbcbcf"/>
<rect x="271.22" y="142.39" width="6.41" height="7.08" fill="#cbcbcf"/>
<rect x="278.63" y="142.39" width="6.41" height="7.08" fill="#cbcbcf"/>
<rect x="286.04" y="142.39" width="6.41" height="7.08" fill="#cbcbcf"/>
<rect x="293.45" y="142.39" width="6.41" height="7.08" fill="#cbcbcf"/>
<rect x="300.86" y="142.39" width="6.41" height="7.08" fill="#cbcbcf"/>
<rect x="308.27" y="142.39" width="6.41" height="7.08" fill="#cbcbcf"/>
<rect x="315.68" y="142.39" width="6.41" height="7.08" fill="#cbcbcf"/>
<rect x="323.09" y="142.39" width="6.41" height="7.08" fill="#cbcbcf"/>
<rect x="330.50" y="142.39" width="6.41" height="7.08" fill="#cbcbcf"/>
<rect x="337.91" y="142.39" width="6.41" height="7.08" fill="#cbcbcf"/>
<rect x="345.32" y="142.39" width="6.41" height="7.08" fill="#cbcbcf"/>
<rect x="352.73" y="142.39" width="6.41" height="7.08" fill="#cbcbcf"/>
<rect x="360.14" y="142.39" width="6.41" height="7.08" fill="#cbcbcf"/>
<rect x="367.55" y="142.39" width="6.41" height="7.08" fill="#cbcbcf"/>
<rect x="374.96" y="142.39" width="6.41" height="7.08" fill="#cbcbcf"/>
<rect x="382.37" y="142.39" width="6.41" height="7.08" fill="#cbcbcf"/>
<rect x="389.78" y="142.39" width="6.41" height="7.08" fill="#cbcbcf"/>
<rect x="397.19" y="142.39" width="6.41" height="7.08" fill="#cbcbcf"/>
<rect x="404.60" y="142.39" width="6.41" height="7.08" fill="#cbcbcf"/>
<rect x="412.01" y="142.39" width="6.41" height="7.08" fill="#cbcbcf"/>
<rect x="26.69" y="150.47" width="6.41" height="7.08" fill="#cbcbcf"/>
<rect x="34.10" y="150.47" width="6.41" height="7.08" fill="#cbcbcf"/>
<rect x="41.51" y="150.47" width="6.41" height="7.08" fill="#cbcbcf"/>
<rect x="48.92" y="150.47" width="6.41" height="7.08" fill="#cbcbcf"/>
<rect x="56.33" y="150.47" width="6.41" height="7.08" fill="#cbcbcf"/>
<rect x="63.74" y="150.47" width="6.41" height="7.08" fill="#cbcbcf"/>
<rect x="71.15" y="150.47" width="6.41" height="7.08" fill="#cbcbcf"/>
<rect x="78.56" y="150.47" width="6.41" height="7.08" fill="#cbcbcf"/>
<rect x="85.97" y="150.47" width="6.41" height="7.08" fill="#cbcbcf"/>
<rect x="93.38" y="150.47" width="6.41" height="7.08" fill="#cbcbcf"/>
<rect x="100.79" y="150.47" width="6.41" height="7.08" fill="#cbcbcf"/>
<rect x="108.20" y="150.47" width="6.41" height="7.08" fill="#cbcbcf"/>
<rect x="115.61" y="150.47" width="6.41" height="7.08" fill="#cbcbcf"/>
<rect x="123.02" y="150.47" width="6.41" height="7.08" fill="#cbcbcf"/>
<rect x="130.43" y="150.47" width="6.41" height="7.08" fill="#cbcbcf"/>
<rect x="137.84" y="150.47" width="6.41" height="7.08" fill="#cbcbcf"/>
<rect x="145.25" y="150.47" width="6.41" height="7.08" fill="#cbcbcf"/>
<rect x="152.66" y="150.47" width="6.41" height="7.08" fill="#cbcbcf"/>
<rect x="160.07" y="150.47" width="6.41" height="7.08" fill="#cbcbcf"/>
<rect x="167.48" y="150.47" width="6.41" height="7.08" fill="#cbcbcf"/>
<rect x="174.89" y="150.47" width="6.41" height="7.08" fill="#cbcbcf"/>
<rect x="182.30" y="150.47" width="6.41" height="7.08" fill="#cbcbcf"/>
<rect x="189.71" y="150.47" width="6.41" height="7.08" fill="#cbcbcf"/>
<rect x="197.12" y="150.47" width="6.41" height="7.08" fill="#cbcbcf"/>
<rect x="204.53" y="150.47" width="6.41" height="7.08" fill="#cbcbcf"/>
<rect x="211.94" y="150.47" width="6.41" height="7.08" fill="#cbcbcf"/>
<rect x="219.35" y="150.47" width="6.41" height="7.08" fill="#cbcbcf"/>
<rect x="226.76" y="150.47" width="6.41" height="7.08" fill="#cbcbcf"/>
<rect x="234.17" y="150.47" width="6.41" height="7.08" fill="#cbcbcf"/>
<rect x="241.58" y="150.47" width="6.41" height="7.08" fill="#cbcbcf"/>
<rect x="248.99" y="150.47" width="6.41" height="7.08" fill="#cbcbcf"/>
<rect x="256.40" y="150.47" width="6.41" height="7.08" fill="#cbcbcf"/>
<rect x="263.81" y="150.47" width="6.41" height="7.08" fill="#cbcbcf"/>
<rect x="271.22" y="150.47" width="6.41" height="7.08" fill="#cbcbcf"/>
<rect x="278.63" y="150.47" width="6.41" height="7.08" fill="#cbcbcf"/>
<rect x="286.04" y="150.47" width="6.41" height="7.08" fill="#cbcbcf"/>
<rect x="293.45" y="150.47" width="6.41" height="7.08" fill="#cbcbcf"/>
<rect x="300.86" y="150.47" width="6.41" height="7.08" fill="#cbcbcf"/>
<rect x="308.27" y="150.47" width="6.41" height="7.08" fill="#cbcbcf"/>
<rect x="315.68" y="150.47" width="6.41" height="7.08" fill="#cbcbcf"/>
<rect x="323.09" y="150.47" width="6.41" height="7.08" fill="#cbcbcf"/>
<rect x="330.50" y="150.47" width="6.41" height="7.08" fill="#cbcbcf"/>
<rect x="337.91" y="150.47" width="6.41" height="7.08" fill="#cbcbcf"/>
<rect x="345.32" y="150.47" width="6.41" height="7.08" fill="#cbcbcf"/>
<rect x="352.73" y="150.47" width="6.41" height="7.08" fill="#cbcbcf"/>
<rect x="360.14" y="150.47" width="6.41" height="7.08" fill="#cbcbcf"/>
<rect x="367.55" y="150.47" width="6.41" height="7.08" fill="#cbcbcf"/>
<rect x="374.96" y="150.47" width="6.41" height="7.08" fill="#cbcbcf"/>
<rect x="382.37" y="150.47" width="6.41" height="7.08" fill="#cbcbcf"/>
<rect x="389.78" y="150.47" width="6.41" height="7.08" fill="#cbcbcf"/>
<rect x="397.19" y="150.47" width="6.41" height="7.08" fill="#cbcbcf"/>
<rect x="404.60" y="150.47" width="6.41" height="7.08" fill="#cbcbcf"/>
<rect x="412.01" y="150.47" width="6.41" height="7.08" fill="#cbcbcf"/>
<rect x="26.69" y="158.55" width="6.41" height="7.08" fill="#cbcbcf"/>
<rect x="34.10" y="158.55" width="6.41" height="7.08" fill="#cbcbcf"/>
<rect x="41.51" y="158.55" width="6.41" height="7.08" fill="#cbcbcf"/>
<rect x="48.92" y="158.55" width="6.41" height="7.08" fill="#cbcbcf"/>
<rect x="56.33" y="158.55" width="6.41" height="7.08" fill="#cbcbcf"/>
<rect x="63.74" y="158.55" width="6.41" height="7.08" fill="#cbcbcf"/>
<rect x="71.15" y="158.55" width="6.41" height="7.08" fill="#cbcbcf"/>
<rect x="78.56" y="158.55" width="6.41" height="7.08" fill="#cbcbcf"/>
<rect x="85.97" y="158.55" width="6.41" height="7.08" fill="#cbcbcf"/>
<rect x="93.38" y="158.55" width="6.41" height="7.08" fill="#cbcbcf"/>
<rect x="100.79" y="158.55" width="6.41" height="7.08" fill="#cbcbcf"/>
<rect x="108.20" y="158.55" width="6.41" height="7.08" fill="#cbcbcf"/>
<rect x="115.61" y="158.55" width="6.41" height="7.08" fill="#cbcbcf"/>
<rect x="123.02" y="158.55" width="6.41" height="7.08" fill="#cbcbcf"/>
<rect x="130.43" y="158.55" width="6.41" height="7.08" fill="#cbcbcf"/>
<rect x="137.84" y="158.55" width="6.41" height="7.08" fill="#cbcbcf"/>
<rect x="145.25" y="158.55" width="6.41" height="7.08" fill="#cbcbcf"/>
<rect x="152.66" y="158.55" width="6.41" height="7.08" fill="#cbcbcf"/>
<rect x="160.07" y="158.55" width="6.41" height="7.08" fill="#cbcbcf"/>
<rect x="167.48" y="158.55" width="6.41" height="7.08" fill="#cbcbcf"/>
<rect x="174.89" y="158.55" width="6.41" height="7.08" fill="#cbcbcf"/>
<rect x="182.30" y="158.55" width="6.41" height="7.08" fill="#cbcbcf"/>
<rect x="189.71" y="158.55" width="6.41" height="7.08" fill="#cbcbcf"/>
<rect x="197.12" y="158.55" width="6.41" height="7.08" fill="#cbcbcf"/>
<rect x="204.53" y="158.55" width="6.41" height="7.08" fill="#cbcbcf"/>
<rect x="211.94" y="158.55" width="6.41" height="7.08" fill="#cbcbcf"/>
<rect x="219.35" y="158.55" width="6.41" height="7.08" fill="#cbcbcf"/>
<rect x="226.76" y="158.55" width="6.41" height="7.08" fill="#cbcbcf"/>
<rect x="234.17" y="158.55" width="6.41" height="7.08" fill="#cbcbcf"/>
<rect x="241.58" y="158.55" width="6.41" height="7.08" fill="#cbcbcf"/>
<rect x="248.99" y="158.55" width="6.41" height="7.08" fill="#cbcbcf"/>
<rect x="256.40" y="158.55" width="6.41" height="7.08" fill="#cbcbcf"/>
<rect x="263.81" y="158.55" width="6.41" height="7.08" fill="#cbcbcf"/>
<rect x="271.22" y="158.55" width="6.41" height="7.08" fill="#cbcbcf"/>
<rect x="278.63" y="158.55" width="6.41" height="7.08" fill="#cbcbcf"/>
<rect x="286.04" y="158.55" width="6.41" height="7.08" fill="#cbcbcf"/>
<rect x="293.45" y="158.55" width="6.41" height="7.08" fill="#cbcbcf"/>
<rect x="300.86" y="158.55" width="6.41" height="7.08" fill="#cbcbcf"/>
<rect x="308.27" y="158.55" width="6.41" height="7.08" fill="#cbcbcf"/>
<rect x="315.68" y="158.55" width="6.41" height="7.08" fill="#cbcbcf"/>
<rect x="323.09" y="158.55" width="6.41" height="7.08" fill="#cbcbcf"/>
<rect x="330.50" y="158.55" width="6.41" height="7.08" fill="#cbcbcf"/>
<rect x="337.91" y="158.55" width="6.41" height="7.08" fill="#cbcbcf"/>
<rect x="345.32" y="158.55" width="6.41" height="7.08" fill="#cbcbcf"/>
<rect x="352.73" y="158.55" width="6.41" height="7.08" fill="#cbcbcf"/>
<rect x="360.14" y="158.55" width="6.41" height="7.08" fill="#cbcbcf"/>
<rect x="367.55" y="158.55" width="6.41" height="7.08" fill="#cbcbcf"/>
<rect x="374.96" y="158.55" width="6.41" height="7.08" fill="#cbcbcf"/>
<rect x="382.37" y="158.55" width="6.41" height="7.08" fill="#cbcbcf"/>
<rect x="389.78" y="158.55" width="6.41" height="7.08" fill="#cbcbcf"/>
<rect x="397.19" y="158.55" width="6.41" height="7.08" fill="#cbcbcf"/>
<rect x="404.60" y="158.55" width="6.41" height="7.08" fill="#cbcbcf"/>
<rect x="412.01" y="158.55" width="6.41" height="7.08" fill="#cbcbcf"/>
<rect x="26.69" y="166.63" width="6.41" height="7.08" fill="#cbcbcf"/>
<rect x="34.10" y="166.63" width="6.41" height="7.08" fill="#cbcbcf"/>
<rect x="41.51" y="166.63" width="6.41" height="7.08" fill="#cbcbcf"/>
<rect x="48.92" y="166.63" width="6.41" height="7.08" fill="#cbcbcf"/>
<rect x="56.33" y="166.63" width="6.41" height="7.08" fill="#cbcbcf"/>
<rect x="63.74" y="166.63" width="6.41" height="7.08" fill="#cbcbcf"/>
<rect x="71.15" y="166.63" width="6.41" height="7.08" fill="#cbcbcf"/>
<rect x="78.56" y="166.63" width="6.41" height="7.08" fill="#cbcbcf"/>
<rect x="85.97" y="166.63" width="6.41" height="7.08" fill="#cbcbcf"/>
<rect x="93.38" y="166.63" width="6.41" height="7.08" fill="#cbcbcf"/>
<rect x="100.79" y="166.63" width="6.41" height="7.08" fill="#cbcbcf"/>
<rect x="108.20" y="166.63" width="6.41" height="7.08" fill="#cbcbcf"/>
<rect x="115.61" y="166.63" width="6.41" height="7.08" fill="#cbcbcf"/>
<rect x="123.02" y="166.63" width="6.41" height="7.08" fill="#cbcbcf"/>
<rect x="130.43" y="166.63" width="6.41" height="7.08" fill="#cbcbcf"/>
<rect x="137.84" y="166.63" width="6.41" height="7.08" fill="#cbcbcf"/>
<rect x="145.25" y="166.63" width="6.41" height="7.08" fill="#cbcbcf"/>
<rect x="152.66" y="166.63" width="6.41" height="7.08" fill="#cbcbcf"/>
<rect x="160.07" y="166.63" width="6.41" height="7.08" fill="#cbcbcf"/>
<rect x="167.48" y="166.63" width="6.41" height="7.08" fill="#cbcbcf"/>
<rect x="174.89" y="166.63" width="6.41" height="7.08" fill="#cbcbcf"/>
<rect x="182.30" y="166.63" width="6.41" height="7.08" fill="#cbcbcf"/>
<rect x="189.71" y="166.63" width="6.41" height="7.08" fill="#cbcbcf"/>
<rect x="197.12" y="166.63" width="6.41" height="7.08" fill="#cbcbcf"/>
<rect x="204.53" y="166.63" width="6.41" height="7.08" fill="#cbcbcf"/>
<rect x="211.94" y="166.63" width="6.41" height="7.08" fill="#cbcbcf"/>
<rect x="219.35" y="166.63" width="6.41" height="7.08" fill="#cbcbcf"/>
<rect x="226.76" y="166.63" width="6.41" height="7.08" fill="#cbcbcf"/>
<rect x="234.17" y="166.63" width="6.41" height="7.08" fill="#cbcbcf"/>
<rect x="241.58" y="166.63" width="6.41" height="7.08" fill="#cbcbcf"/>
<rect x="248.99" y="166.63" width="6.41" height="7.08" fill="#cbcbcf"/>
<rect x="256.40" y="166.63" width="6.41" height="7.08" fill="#cbcbcf"/>
<rect x="263.81" y="166.63" width="6.41" height="7.08" fill="#cbcbcf"/>
<rect x="271.22" y="166.63" width="6.41" height="7.08" fill="#cbcbcf"/>
<rect x="278.63" y="166.63" width="6.41" height="7.08" fill="#cbcbcf"/>
<rect x="286.04" y="166.63" width="6.41" height="7.08" fill="#cbcbcf"/>
<rect x="293.45" y="166.63" width="6.41" height="7.08" fill="#cbcbcf"/>
<rect x="300.86" y="166.63" width="6.41" height="7.08" fill="#cbcbcf"/>
<rect x="308.27" y="166.63" width="6.41" height="7.08" fill="#cbcbcf"/>
<rect x="315.68" y="166.63" width="6.41" height="7.08" fill="#cbcbcf"/>
<rect x="323.09" y="166.63" width="6.41" height="7.08" fill="#cbcbcf"/>
<rect x="330.50" y="166.63" width="6.41" height="7.08" fill="#cbcbcf"/>
<rect x="337.91" y="166.63" width="6.41" height="7.08" fill="#cbcbcf"/>
<rect x="345.32" y="166.63" width="6.41" height="7.08" fill="#cbcbcf"/>
<rect x="352.73" y="166.63" width="6.41" height="7.08" fill="#cbcbcf"/>
<rect x="360.14" y="166.63" width="6.41" height="7.08" fill="#cbcbcf"/>
<rect x="367.55" y="166.63" width="6.41" height="7.08" fill="#cbcbcf"/>
<rect x="374.96" y="166.63" width="6.41" height="7.08" fill="#cbcbcf"/>
<rect x="382.37" y="166.63" width="6.41" height="7.08" fill="#cbcbcf"/>
<rect x="389.78" y="166.63" width="6.41" height="7.08" fill="#cbcbcf"/>
<rect x="397.19" y="166.63" width="6.41" height="7.08" fill="#cbcbcf"/>
<rect x="404.60" y="166.63" width="6.41" height="7.08" fill="#cbcbcf"/>
<rect x="412.01" y="166.63" width="6.41" height="7.08" fill="#cbcbcf"/>
<rect x="26.69" y="174.71" width="6.41" height="7.08" fill="#cbcbcf"/>
<rect x="34.10" y="174.71" width="6.41" height="7.08" fill="#cbcbcf"/>
<rect x="41.51" y="174.71" width="6.41" height="7.08" fill="#cbcbcf"/>
<rect x="48.92" y="174.71" width="6.41" height="7.08" fill="#cbcbcf"/>
<rect x="56.33" y="174.71" width="6.41" height="7.08" fill="#cbcbcf"/>
<rect x="63.74" y="174.71" width="6.41" height="7.08" fill="#cbcbcf"/>
<rect x="71.15" y="174.71" width="6.41" height="7.08" fill="#cbcbcf"/>
<rect x="78.56" y="174.71" width="6.41" height="7.08" fill="#cbcbcf"/>
<rect x="85.97" y="174.71" width="6.41" height="7.08" fill="#cbcbcf"/>
<rect x="93.38" y="174.71" width="6.41" height="7.08" fill="#cbcbcf"/>
<rect x="100.79" y="174.71" width="6.41" height="7.08" fill="#cbcbcf"/>
<rect x="108.20" y="174.71" width="6.41" height="7.08" fill="#cbcbcf"/>
<rect x="115.61" y="174.71" width="6.41" height="7.08" fill="#cbcbcf"/>
<rect x="123.02" y="174.71" width="6.41" height="7.08" fill="#cbcbcf"/>
<rect x="130.43" y="174.71" width="6.41" height="7.08" fill="#cbcbcf"/>
<rect x="137.84" y="174.71" width="6.41" height="7.08" fill="#cbcbcf"/>
<rect x="145.25" y="174.71" width="6.41" height="7.08" fill="#cbcbcf"/>
<rect x="152.66" y="174.71" width="6.41" height="7.08" fill="#cbcbcf"/>
<rect x="160.07" y="174.71" width="6.41" height="7.08" fill="#cbcbcf"/>
<rect x="167.48" y="174.71" width="6.41" height="7.08" fill="#cbcbcf"/>
<rect x="174.89" y="174.71" width="6.41" height="7.08" fill="#cbcbcf"/>
<rect x="182.30" y="174.71" width="6.41" height="7.08" fill="#cbcbcf"/>
<rect x="189.71" y="174.71" width="6.41" height="7.08" fill="#cbcbcf"/>
<rect x="197.12" y="174.71" width="6.41" height="7.08" fill="#cbcbcf"/>
<rect x="204.53" y="174.71" width="6.41" height="7.08" fill="#cbcbcf"/>
<rect x="211.94" y="174.71" width="6.41" height="7.08" fill="#cbcbcf"/>
<rect x="219.35" y="174.71" width="6.41" height="7.08" fill="#cbcbcf"/>
<rect x="226.76" y="174.71" width="6.41" height="7.08" fill="#cbcbcf"/>
<rect x="234.17" y="174.71" width="6.41" height="7.08" fill="#cbcbcf"/>
<rect x="241.58" y="174.71" width="6.41" height="7.08" fill="#cbcbcf"/>
<rect x="248.99" y="174.71" width="6.41" height="7.08" fill="#cbcbcf"/>
<rect x="256.40" y="174.71" width="6.41" height="7.08" fill="#cbcbcf"/>
<rect x="263.81" y="174.71" width="6.41" height="7.08" fill="#cbcbcf"/>
<rect x="271.22" y="174.71" width="6.41" height="7.08" fill="#cbcbcf"/>
<rect x="278.63" y="174.71" width="6.41" height="7.08" fill="#cbcbcf"/>
<rect x="286.04" y="174.71" width="6.41" height="7.08" fill="#cbcbcf"/>
<rect x="293.45" y="174.71" width="6.41" height="7.08" fill="#cbcbcf"/>
<rect x="300.86" y="174.71" width="6.41" height="7.08" fill="#cbcbcf"/>
<rect x="308.27" y="174.71" width="6.41" height="7.08" fill="#cbcbcf"/>
<rect x="315.68" y="174.71" width="6.41" height="7.08" fill="#cbcbcf"/>
<rect x="323.09" y="174.71" width="6.41" height="7.08" fill="#cbcbcf"/>
<rect x="330.50" y="174.71" width="6.41" height="7.08" fill="#cbcbcf"/>
<rect x="337.91" y="174.71" width="6.41" height="7.08" fill="#cbcbcf"/>
<rect x="345.32" y="174.71" width="6.41" height="7.08" fill="#cbcbcf"/>
<rect x="352.73" y="174.71" width="6.41" height="7.08" fill="#cbcbcf"/>
<rect x="360.14" y="174.71" width="6.41" height="7.08" fill="#cbcbcf"/>
<rect x="367.55" y="174.71" width="6.41" height="7.08" fill="#cbcbcf"/>
<rect x="374.96" y="174.71" width="6.41" height="7.08" fill="#cbcbcf"/>
<rect x="382.37" y="174.71" width="6.41" height="7.08" fill="#cbcbcf"/>
<rect x="389.78" y="174.71" width="6.41" height="7.08" fill="#cbcbcf"/>
<rect x="397.19" y="174.71" width="6.41" height="7.08" fill="#cbcbcf"/>
<rect x="404.60" y="174.71" width="6.41" height="7.08" fill="#cbcbcf"/>
<rect x="412.01" y="174.71" width="6.41" height="7.08" fill="#cbcbcf"/>
<rect x="26.69" y="182.78" width="6.41" height="7.08" fill="#cbcbcf"/>
<rect x="34.10" y="182.78" width="6.41" height="7.08" fill="#cbcbcf"/>
<rect x="41.51" y="182.78" width="6.41" height="7.08" fill="#cbcbcf"/>
<rect x="48.92" y="182.78" width="6.41" height="7.08" fill="#cbcbcf"/>
<rect x="56.33" y="182.78" width="6.41" height="7.08" fill="#cbcbcf"/>
<rect x="63.74" y="182.78" width="6.41" height="7.08" fill="#cbcbcf"/>
<rect x="71.15" y="182.78" width="6.41" height="7.08" fill="#cbcbcf"/>
<rect x="78.56" y="182.78" width="6.41" height="7.08" fill="#cbcbcf"/>
<rect x="85.97" y="182.78" width="6.41" height="7.08" fill="#cbcbcf"/>
<rect x="93.38" y="182.78" width="6.41" height="7.08" fill="#cbcbcf"/>
<rect x="100.79" y="182.78" width="6.41" height="7.08" fill="#cbcbcf"/>
<rect x="108.20" y="182.78" width="6.41" height="7.08" fill="#cbcbcf"/>
<rect x="115.61" y="182.78" width="6.41" height="7.08" fill="#cbcbcf"/>
<rect x="123.02" y="182.78" width="6.41" height="7.08" fill="#cbcbcf"/>
<rect x="130.43" y="182.78" width="6.41" height="7.08" fill="#cbcbcf"/>
<rect x="137.84" y="182.78" width="6.41" height="7.08" fill="#cbcbcf"/>
<rect x="145.25" y="182.78" width="6.41" height="7.08" fill="#cbcbcf"/>
<rect x="152.66" y="182.78" width="6.41" height="7.08" fill="#cbcbcf"/>
<rect x="160.07" y="182.78" width="6.41" height="7.08" fill="#cbcbcf"/>
<rect x="167.48" y="182.78" width="6.41" height="7.08" fill="#cbcbcf"/>
<rect x="174.89" y="182.78" width="6.41" height="7.08" fill="#cbcbcf"/>
<rect x="182.30" y="182.78" width="6.41" height="7.08" fill="#cbcbcf"/>
<rect x="189.71" y="182.78" width="6.41" height="7.08" fill="#cbcbcf"/>
<rect x="197.12" y="182.78" width="6.41" height="7.08" fill="#cbcbcf"/>
<rect x="204.53" y="182.78" width="6.41" height="7.08" fill="#cbcbcf"/>
<rect x="211.94" y="182.78" width="6.41" height="7.08" fill="#cbcbcf"/>
<rect x="219.35" y="182.78" width="6.41" height="7.08" fill="#cbcbcf"/>
<rect x="226.76" y="182.78" width="6.41" height="7.08" fill="#cbcbcf"/>
<rect x="234.17" y="182.78" width="6.41" height="7.08" fill="#cbcbcf"/>
<rect x="241.58" y="182.78" width="6.41" height="7.08" fill="#cbcbcf"/>
<rect x="248.99" y="182.78" width="6.41" height="7.08" fill="#cbcbcf"/>
<rect x="256.40" y="182.78" width="6.41" height="7.08" fill="#cbcbcf"/>
<rect x="263.81" y="182.78" width="6.41" height="7.08" fill="#cbcbcf"/>
<rect x="271.22" y="182.78" width="6.41" height="7.08" fill="#cbcbcf"/>
<rect x="278.63" y="182.78" width="6.41" height="7.08" fill="#cbcbcf"/>
<rect x="286.04" y="182.78" width="6.41" height="7.08" fill="#cbcbcf"/>
<rect x="293.45" y="182.78" width="6.41" height="7.08" fill="#cbcbcf"/>
<rect x="300.86" y="182.78" width="6.41" height="7.08" fill="#cbcbcf"/>
<rect x="308.27" y="182.78" width="6.41" height="7.08" fill="#cbcbcf"/>
<rect x="315.68" y="182.78" width="6.41" height="7.08" fill="#cbcbcf"/>
<rect x="323.09" y="182.78" width="6.41" height="7.08" fill="#cbcbcf"/>
<rect x="330.50" y="182.78" width="6.41" height="7.08" fill="#cbcbcf"/>
<rect x="337.91" y="182.78" width="6.41" height="7.08" fill="#cbcbcf"/>
<rect x="345.32" y="182.78" width="6.41" height="7.08" fill="#cbcbcf"/>
<rect x="352.73" y="182.78" width="6.41" height="7.08" fill="#cbcbcf"/>
<rect x="360.14" y="182.78" width="6.41" height="7.08" fill="#cbcbcf"/>
<rect x="367.55" y="182.78" width="6.41" height="7.08" fill="#cbcbcf"/>
<rect x="374.96" y="182.78" width="6.41" height="7.08" fill="#cbcbcf"/>
<rect x="382.37" y="182.78" width="6.41" height="7.08" fill="#cbcbcf"/>
<rect x="389.78" y="182.78" width="6.41" height="7.08" fill="#cbcbcf"/>
<rect x="397.19" y="182.78" width="6.41" height="7.08" fill="#cbcbcf"/>
<rect x="404.60" y="182.78" width="6.41" height="7.08" fill="#cbcbcf"/>
<rect x="412.01" y="182.78" width="6.41" height="7.08" fill="#cbcbcf"/>
<rect x="26.69" y="190.86" width="6.41" height="7.08" fill="#cbcbcf"/>
<rect x="34.10" y="190.86" width="6.41" height="7.08" fill="#cbcbcf"/>
<rect x="41.51" y="190.86" width="6.41" height="7.08" fill="#cbcbcf"/>
<rect x="48.92" y="190.86" width="6.41" height="7.08" fill="#cbcbcf"/>
<rect x="56.33" y="190.86" width="6.41" height="7.08" fill="#cbcbcf"/>
<rect x="63.74" y="190.86" width="6.41" height="7.08" fill="#cbcbcf"/>
<rect x="71.15" y="190.86" width="6.41" height="7.08" fill="#cbcbcf"/>
<rect x="78.56" y="190.86" width="6.41" height="7.08" fill="#cbcbcf"/>
<rect x="85.97" y="190.86" width="6.41" height="7.08" fill="#cbcbcf"/>
<rect x="93.38" y="190.86" width="6.41" height="7.08" fill="#cbcbcf"/>
<rect x="100.79" y="190.86" width="6.41" height="7.08" fill="#cbcbcf"/>
<rect x="108.20" y="190.86" width="6.41" height="7.08" fill="#cbcbcf"/>
<rect x="115.61" y="190.86" width="6.41" height="7.08" fill="#cbcbcf"/>
<rect x="123.02" y="190.86" width="6.41" height="7.08" fill="#cbcbcf"/>
<rect x="130.43" y="190.86" width="6.41" height="7.08" fill="#cbcbcf"/>
<rect x="137.84" y="190.86" width="6.41" height="7.08" fill="#cbcbcf"/>
<rect x="145.25" y="190.86" width="6.41" height="7.08" fill="#cbcbcf"/>
<rect x="152.66" y="190.86" width="6.41" height="7.08" fill="#cbcbcf"/>
<rect x="160.07" y="190.86" width="6.41" height="7.08" fill="#cbcbcf"/>
<rect x="167.48" y="190.86" width="6.41" height="7.08" fill="#cbcbcf"/>
<rect x="174.89" y="190.86" width="6.41" height="7.08" fill="#cbcbcf"/>
<rect x="182.30" y="190.86" width="6.41" height="7.08" fill="#cbcbcf"/>
<rect x="189.71" y="190.86" width="6.41" height="7.08" fill="#cbcbcf"/>
<rect x="197.12" y="190.86" width="6.41" height="7.08" fill="#cbcbcf"/>
<rect x="204.53" y="190.86" width="6.41" height="7.08" fill="#cbcbcf"/>
<rect x="211.94" y="190.86" width="6.41" height="7.08" fill="#cbcbcf"/>
<rect x="219.35" y="190.86" width="6.41" height="7.08" fill="#cbcbcf"/>
<rect x="226.76" y="190.86" width="6.41" height="7.08" fill="#cbcbcf"/>
<rect x="234.17" y="190.86" width="6.41" height="7.08" fill="#cbcbcf"/>
<rect x="241.58" y="190.86" width="6.41" height="7.08" fill="#cbcbcf"/>
<rect x="248.99" y="190.86" width="6.41" height="7.08" fill="#cbcbcf"/>
<rect x="256.40" y="190.86" width="6.41" height="7.08" fill="#cbcbcf"/>
<rect x="263.81" y="190.86" width="6.41" height="7.08" fill="#cbcbcf"/>
<rect x="271.22" y="190.86" width="6.41" height="7.08" fill="#cbcbcf"/>
<rect x="278.63" y="190.86" width="6.41" height="7.08" fill="#cbcbcf"/>
<rect x="286.04" y="190.86" width="6.41" height="7.08" fill="#cbcbcf"/>
<rect x="293.45" y="190.86" width="6.41" height="7.08" fill="#cbcbcf"/>
<rect x="300.86" y="190.86" width="6.41" height="7.08" fill="#cbcbcf"/>
<rect x="308.27" y="190.86" width="6.41" height="7.08" fill="#cbcbcf"/>
<rect x="315.68" y="190.86" width="6.41" height="7.08" fill="#cbcbcf"/>
<rect x="323.09" y="190.86" width="6.41" height="7.08" fill="#cbcbcf"/>
<rect x="330.50" y="190.86" width="6.41" height="7.08" fill="#cbcbcf"/>
<rect x="337.91" y="190.86" width="6.41" height="7.08" fill="#cbcbcf"/>
<rect x="345.32" y="190.86" width="6.41" height="7.08" fill="#cbcbcf"/>
<rect x="352.73" y="190.86" width="6.41" height="7.08" fill="#cbcbcf"/>
<rect x="360.14" y="190.86" width="6.41" height="7.08" fill="#cbcbcf"/>
<rect x="367.55" y="190.86" width="6.41" height="7.08" fill="#cbcbcf"/>
<rect x="374.96" y="190.86" width="6.41" height="7.08" fill="#cbcbcf"/>
<rect x="382.37" y="190.86" width="6.41" height="7.08" fill="#cbcbcf"/>
<rect x="389.78" y="190.86" width="6.41" height="7.08" fill="#cbcbcf"/>
<rect x="397.19" y="190.86" width="6.41" height="7.08" fill="#cbcbcf"/>
<rect x="404.60" y="190.86" width="6.41" height="7.08" fill="#cbcbcf"/>
<rect x="412.01" y="190.86" width="6.41" height="7.08" fill="#cbcbcf"/>
<rect x="26.69" y="198.94" width="6.41" height="7.08" fill="#cbcbcf"/>
<rect x="34.10" y="198.94" width="6.41" height="7.08" fill="#cbcbcf"/>
<rect x="41.51" y="198.94" width="6.41" height="7.08" fill="#cbcbcf"/>
<rect x="48.92" y="198.94" width="6.41" height="7.08" fill="#cbcbcf"/>
<rect x="56.33" y="198.94" width="6.41" height="7.08" fill="#cbcbcf"/>
<rect x="63.74" y="198.94" width="6.41" height="7.08" fill="#cbcbcf"/>
<rect x="71.15" y="198.94" width="6.41" height="7.08" fill="#cbcbcf"/>
<rect x="78.56" y="198.94" width="6.41" height="7.08" fill="#cbcbcf"/>
<rect x="85.97" y="198.94" width="6.41" height="7.08" fill="#cbcbcf"/>
<rect x="93.38" y="198.94" width="6.41" height="7.08" fill="#cbcbcf"/>
<rect x="100.79" y="198.94" width="6.41" height="7.08" fill="#cbcbcf"/>
<rect x="108.20" y="198.94" width="6.41" height="7.08" fill="#cbcbcf"/>
<rect x="115.61" y="198.94" width="6.41" height="7.08" fill="#cbcbcf"/>
<rect x="123.02" y="198.94" width="6.41" height="7.08" fill="#cbcbcf"/>
<rect x="130.43" y="198.94" width="6.41" height="7.08" fill="#cbcbcf"/>
<rect x="137.84" y="198.94" width="6.41" height="7.08" fill="#cbcbcf"/>
<rect x="145.25" y="198.94" width="6.41" height="7.08" fill="#cbcbcf"/>
<rect x="152.66" y="198.94" width="6.41" height="7.08" fill="#cbcbcf"/>
<rect x="160.07" y="198.94" width="6.41" height="7.08" fill="#cbcbcf"/>
<rect x="167.48" y="198.94" width="6.41" height="7.08" fill="#cbcbcf"/>
<rect x="174.89" y="198.94" width="6.41" height="7.08" fill="#cbcbcf"/>
<rect x="182.30" y="198.94" width="6.41" height="7.08" fill="#cbcbcf"/>
<rect x="189.71" y="198.94" width="6.41" height="7.08" fill="#cbcbcf"/>
<rect x="197.12" y="198.94" width="6.41" height="7.08" fill="#cbcbcf"/>
<rect x="204.53" y="198.94" width="6.41" height="7.08" fill="#cbcbcf"/>
<rect x="211.94" y="198.94" width="6.41" height="7.08" fill="#cbcbcf"/>
<rect x="219.35" y="198.94" width="6.41" height="7.08" fill="#cbcbcf"/>
<rect x="226.76" y="198.94" width="6.41" height="7.08" fill="#cbcbcf"/>
<rect x="234.17" y="198.94" width="6.41" height="7.08" fill="#cbcbcf"/>
<rect x="241.58" y="198.94" width="6.41" height="7.08" fill="#cbcbcf"/>
<rect x="248.99" y="198.94" width="6.41" height="7.08" fill="#cbcbcf"/>
<rect x="256.40" y="198.94" width="6.41" height="7.08" fill="#cbcbcf"/>
<rect x="263.81" y="198.94" width="6.41" height="7.08" fill="#cbcbcf"/>
<rect x="271.22" y="198.94" width="6.41" height="7.08" fill="#cbcbcf"/>
<rect x="278.63" y="198.94" width="6.41" height="7.08" fill="#cbcbcf"/>
<rect x="286.04" y="198.94" width="6.41" height="7.08" fill="#cbcbcf"/>
<rect x="293.45" y="198.94" width="6.41" height="7.08" fill="#cbcbcf"/>
<rect x="300.86" y="198.94" width="6.41" height="7.08" fill="#cbcbcf"/>
<rect x="308.27" y="198.94" width="6.41" height="7.08" fill="#cbcbcf"/>
<rect x="315.68" y="198.94" width="6.41" height="7.08" fill="#cbcbcf"/>
<rect x="323.09" y="198.94" width="6.41" height="7.08" fill="#cbcbcf"/>
<rect x="330.50" y="198.94" width="6.41" height="7.08" fill="#cbcbcf"/>
<rect x="337.91" y="198.94" width="6.41" height="7.08" fill="#cbcbcf"/>
<rect x="345.32" y="198.94" width="6.41" height="7.08" fill="#cbcbcf"/>
<rect x="352.73" y="198.94" width="6.41" height="7.08" fill="#cbcbcf"/>
<rect x="360.14" y="198.94" width="6.41" height="7.08" fill="#cbcbcf"/>
<rect x="367.55" y="198.94" width="6.41" height="7.08" fill="#cbcbcf"/>
<rect x="374.96" y="198.94" width="6.41" height="7.08" fill="#cbcbcf"/>
<rect x="382.37" y="198.94" width="6.41" height="7.08" fill="#cbcbcf"/>
<rect x="389.78" y="198.94" width="6.41" height="7.08" fill="#cbcbcf"/>
<rect x="397.19" y="198.94" width="6.41" height="7.08" fill="#cbcbcf"/>
<rect x="404.60" y="198.94" width="6.41" height="7.08" fill="#cbcbcf"/>
<rect x="412.01" y="198.94" width="6.41" height="7.08" fill="#cbcbcf"/>
<rect x="26.69" y="207.02" width="6.41" height="7.08" fill="#cbcbcf"/>
<rect x="34.10" y="207.02" width="6.41" height="7.08" fill="#cbcbcf"/>
<rect x="41.51" y="207.02" width="6.41" height="7.08" fill="#cbcbcf"/>
<rect x="48.92" y="207.02" width="6.41" height="7.08" fill="#cbcbcf"/>
<rect x="56.33" y="207.02" width="6.41" height="7.08" fill="#cbcbcf"/>
<rect x="63.74" y="207.02" width="6.41" height="7.08" fill="#cbcbcf"/>
<rect x="71.15" y="207.02" width="6.41" height="7.08" fill="#cbcbcf"/>
<rect x="78.56" y="207.02" width="6.41" height="7.08" fill="#cbcbcf"/>
<rect x="85.97" y="207.02" width="6.41" height="7.08" fill="#cbcbcf"/>
<rect x="93.38" y="207.02" width="6.41" height="7.08" fill="#cbcbcf"/>
<rect x="100.79" y="207.02" width="6.41" height="7.08" fill="#cbcbcf"/>
<rect x="108.20" y="207.02" width="6.41" height="7.08" fill="#cbcbcf"/>
<rect x="115.61" y="207.02" width="6.41" height="7.08" fill="#cbcbcf"/>
<rect x="123.02" y="207.02" width="6.41" height="7.08" fill="#cbcbcf"/>
<rect x="130.43" y="207.02" width="6.41" height="7.08" fill="#cbcbcf"/>
<rect x="137.84" y="207.02" width="6.41" height="7.08" fill="#cbcbcf"/>
<rect x="145.25" y="207.02" width="6.41" height="7.08" fill="#cbcbcf"/>
<rect x="152.66" y="207.02" width="6.41" height="7.08" fill="#cbcbcf"/>
<rect x="160.07" y="207.02" width="6.41" height="7.08" fill="#cbcbcf"/>
<rect x="167.48" y="207.02" width="6.41" height="7.08" fill="#cbcbcf"/>
<rect x="174.89" y="207.02" width="6.41" height="7.08" fill="#cbcbcf"/>
<rect x="182.30" y="207.02" width="6.41" height="7.08" fill="#cbcbcf"/>
<rect x="189.71" y="207.02" width="6.41" height="7.08" fill="#cbcbcf"/>
<rect x="197.12" y="207.02" width="6.41" height="7.08" fill="#cbcbcf"/>
<rect x="204.53" y="207.02" width="6.41" height="7.08" fill="#cbcbcf"/>
<rect x="211.94" y="207.02" width="6.41" height="7.08" fill="#cbcbcf"/>
<rect x="219.35" y="207.02" width="6.41" height="7.08" fill="#cbcbcf"/>
<rect x="226.76" y="207.02" width="6.41" height="7.08" fill="#cbcbcf"/>
<rect x="234.17" y="207.02" width="6.41" height="7.08" fill="#cbcbcf"/>
<rect x="241.58" y="207.02" width="6.41" height="7.08" fill="#cbcbcf"/>
<rect x="248.99" y="207.02" width="6.41" height="7.08" fill="#cbcbcf"/>
<rect x="256.40" y="207.02" width="6.41" height="7.08" fill="#cbcbcf"/>
<rect x="263.81" y="207.02" width="6.41" height="7.08" fill="#cbcbcf"/>
<rect x="271.22" y="207.02" width="6.41" height="7.08" fill="#cbcbcf"/>
<rect x="278.63" y="207.02" width="6.41" height="7.08" fill="#cbcbcf"/>
<rect x="286.04" y="207.02" width="6.41" height="7.08" fill="#cbcbcf"/>
<rect x="293.45" y="207.02" width="6.41" height="7.08" fill="#cbcbcf"/>
<rect x="300.86" y="207.02" width="6.41" height="7.08" fill="#cbcbcf"/>
<rect x="308.27" y="207.02" width="6.41" height="7.08" fill="#cbcbcf"/>
<rect x="315.68" y="207.02" width="6.41" height="7.08" fill="#cbcbcf"/>
<rect x="323.09" y="207.02" width="6.41" height="7.08" fill="#cbcbcf"/>
<rect x="330.50" y="207.02" width="6.41" height="7.08" fill="#cbcbcf"/>
<rect x="337.91" y="207.02" width="6.41" height="7.08" fill="#cbcbcf"/>
<rect x="345.32" y="207.02" width="6.41" height="7.08" fill="#cbcbcf"/>
<rect x="352.73" y="207.02" width="6.41" height="7.08" fill="#cbcbcf"/>
<rect x="360.14" y="207.02" width="6.41" height="7.08" fill="#cbcbcf"/>
<rect x="367.55" y="207.02" width="6.41" height="7.08" fill="#cbcbcf"/>
<rect x="374.96" y="207.02" width="6.41" height="7.08" fill="#cbcbcf"/>
<rect x="382.37" y="207.02" width="6.41" height="7.08" fill="#cbcbcf"/>
<rect x="389.78" y="207.02" width="6.41" height="7.08" fill="#cbcbcf"/>
<rect x="397.19" y="207.02" width="6.41" height="7.08" fill="#cbcbcf"/>
<rect x="404.60" y="207.02" width="6.41" height="7.08" fill="#cbcbcf"/>
<rect x="412.01" y="207.02" width="6.41" height="7.08" fill="#cbcbcf"/>
<rect x="26.69" y="215.10" width="6.41" height="7.08" fill="#cbcbcf"/>
<rect x="34.10" y="215.10" width="6.41" height="7.08" fill="#cbcbcf"/>
<rect x="41.51" y="215.10" width="6.41" height="7.08" fill="#cbcbcf"/>
<rect x="48.92" y="215.10" width="6.41" height="7.08" fill="#cbcbcf"/>
<rect x="56.33" y="215.10" width="6.41" height="7.08" fill="#cbcbcf"/>
<rect x="63.74" y="215.10" width="6.41" height="7.08" fill="#cbcbcf"/>
<rect x="71.15" y="215.10" width="6.41" height="7.08" fill="#cbcbcf"/>
<rect x="78.56" y="215.10" width="6.41" height="7.08" fill="#cbcbcf"/>
<rect x="85.97" y="215.10" width="6.41" height="7.08" fill="#cbcbcf"/>
<rect x="93.38" y="215.10" width="6.41" height="7.08" fill="#cbcbcf"/>
<rect x="100.79" y="215.10" width="6.41" height="7.08" fill="#cbcbcf"/>
<rect x="108.20" y="215.10" width="6.41" height="7.08" fill="#cbcbcf"/>
<rect x="115.61" y="215.10" width="6.41" height="7.08" fill="#cbcbcf"/>
<rect x="123.02" y="215.10" width="6.41" height="7.08" fill="#cbcbcf"/>
<rect x="130.43" y="215.10" width="6.41" height="7.08" fill="#cbcbcf"/>
<rect x="137.84" y="215.10" width="6.41" height="7.08" fill="#cbcbcf"/>
<rect x="145.25" y="215.10" width="6.41" height="7.08" fill="#cbcbcf"/>
<rect x="152.66" y="215.10" width="6.41" height="7.08" fill="#cbcbcf"/>
<rect x="160.07" y="215.10" width="6.41" height="7.08" fill="#cbcbcf"/>
<rect x="167.48" y="215.10" width="6.41" height="7.08" fill="#cbcbcf"/>
<rect x="174.89" y="215.10" width="6.41" height="7.08" fill="#cbcbcf"/>
<rect x="182.30" y="215.10" width="6.41" height="7.08" fill="#cbcbcf"/>
<rect x="189.71" y="215.10" width="6.41" height="7.08" fill="#cbcbcf"/>
<rect x="197.12" y="215.10" width="6.41" height="7.08" fill="#cbcbcf"/>
<rect x="204.53" y="215.10" width="6.41" height="7.08" fill="#cbcbcf"/>
<rect x="211.94" y="215.10" width="6.41" height="7.08" fill="#cbcbcf"/>
<rect x="219.35" y="215.10" width="6.41" height="7.08" fill="#cbcbcf"/>
<rect x="226.76" y="215.10" width="6.41" height="7.08" fill="#cbcbcf"/>
<rect x="234.17" y="215.10" width="6.41" height="7.08" fill="#cbcbcf"/>
<rect x="241.58" y="215.10" width="6.41" height="7.08" fill="#cbcbcf"/>
<rect x="248.99" y="215.10" width="6.41" height="7.08" fill="#cbcbcf"/>
<rect x="256.40" y="215.10" width="6.41" height="7.08" fill="#cbcbcf"/>
<rect x="263.81" y="215.10" width="6.41" height="7.08" fill="#cbcbcf"/>
<rect x="271.22" y="215.10" width="6.41" height="7.08" fill="#cbcbcf"/>
<rect x="278.63" y="215.10" width="6.41" height="7.08" fill="#cbcbcf"/>
<rect x="286.04" y="215.10" width="6.41" height="7.08" fill="#cbcbcf"/>
<rect x="293.45" y="215.10" width="6.41" height="7.08" fill="#cbcbcf"/>
<rect x="300.86" y="215.10" width="6.41" height="7.08" fill="#cbcbcf"/>
<rect x="308.27" y="215.10" width="6.41" height="7.08" fill="#cbcbcf"/>
<rect x="315.68" y="215.10" width="6.41" height="7.08" fill="#cbcbcf"/>
<rect x="323.09" y="215.10" width="6.41" height="7.08" fill="#cbcbcf"/>
<rect x="330.50" y="215.10" width="6.41" height="7.08" fill="#cbcbcf"/>
<rect x="337.91" y="215.10" width="6.41" height="7.08" fill="#cbcbcf"/>
<rect x="345.32" y="215.10" width="6.41" height="7.08" fill="#cbcbcf"/>
<rect x="352.73" y="215.10" width="6.41" height="7.08" fill="#cbcbcf"/>
<rect x="360.14" y="215.10" width="6.41" height="7.08" fill="#cbcbcf"/>
<rect x="367.55" y="215.10" width="6.41" height="7.08" fill="#cbcbcf"/>
<rect x="374.96" y="215.10" width="6.41" height="7.08" fill="#cbcbcf"/>
<rect x="382.37" y="215.10" width="6.41" height="7.08" fill="#cbcbcf"/>
<rect x="389.78" y="215.10" width="6.41" height="7.08" fill="#cbcbcf"/>
<rect x="397.19" y="215.10" width="6.41" height="7.08" fill="#cbcbcf"/>
<rect x="404.60" y="215.10" width="6.41" height="7.08" fill="#cbcbcf"/>
<rect x="412.01" y="215.10" width="6.41" height="7.08" fill="#cbcbcf"/>
<path d="M26.69 77.77H33.10V84.85Z" fill="#301f8a" stroke="#fff" stroke-width="0.5"/>
<path d="M26.69 77.77V84.85H33.10Z" fill="#d8384c" stroke="#fff" stroke-width="0.5"/>
<path d="M34.10 77.77H40.51V84.85Z" fill="#301f8a" stroke="#fff" stroke-width="0.5"/>
<path d="M34.10 77.77V84.85H40.51Z" fill="#d8384c" stroke="#fff" stroke-width="0.5"/>
<path d="M41.51 77.77H47.92V84.85Z" fill="#301f8a" stroke="#fff" stroke-width="0.5"/>
<path d="M41.51 77.77V84.85H47.92Z" fill="#d8384c" stroke="#fff" stroke-width="0.5"/>
<path d="M48.92 77.77H55.33V84.85Z" fill="#301f8a" stroke="#fff" stroke-width="0.5"/>
<path d="M48.92 77.77V84.85H55.33Z" fill="#d8384c" stroke="#fff" stroke-width="0.5"/>
<path d="M56.33 77.77H62.74V84.85Z" fill="#301f8a" stroke="#fff" stroke-width="0.5"/>
<path d="M56.33 77.77V84.85H62.74Z" fill="#d8384c" stroke="#fff" stroke-width="0.5"/>
<path d="M63.74 77.77H70.15V84.85Z" fill="#301f8a" stroke="#fff" stroke-width="0.5"/>
<path d="M63.74 77.77V84.85H70.15Z" fill="#d8384c" stroke="#fff" stroke-width="0.5"/>
<path d="M71.15 77.77H77.56V84.85Z" fill="#301f8a" stroke="#fff" stroke-width="0.5"/>
<path d="M71.15 77.77V84.85H77.56Z" fill="#d8384c" stroke="#fff" stroke-width="0.5"/>
<path d="M78.56 77.77H84.97V84.85Z" fill="#301f8a" stroke="#fff" stroke-width="0.5"/>
<path d="M78.56 77.77V84.85H84.97Z" fill="#d8384c" stroke="#fff" stroke-width="0.5"/>
<path d="M85.97 77.77H92.38V84.85Z" fill="#301f8a" stroke="#fff" stroke-width="0.5"/>
<path d="M85.97 77.77V84.85H92.38Z" fill="#d8384c" stroke="#fff" stroke-width="0.5"/>
<path d="M93.38 77.77H99.79V84.85Z" fill="#301f8a" stroke="#fff" stroke-width="0.5"/>
<path d="M93.38 77.77V84.85H99.79Z" fill="#d8384c" stroke="#fff" stroke-width="0.5"/>
<path d="M100.79 77.77H107.20V84.85Z" fill="#301f8a" stroke="#fff" stroke-width="0.5"/>
<path d="M115.61 77.77H122.02V84.85Z" fill="#301f8a" stroke="#fff" stroke-width="0.5"/>
<path d="M26.69 85.85H33.10V92.93Z" fill="#301f8a" stroke="#fff" stroke-width="0.5"/>
<path d="M26.69 85.85V92.93H33.10Z" fill="#d8384c" stroke="#fff" stroke-width="0.5"/>
<path d="M34.10 85.85H40.51V92.93Z" fill="#301f8a" stroke="#fff" stroke-width="0.5"/>
<path d="M34.10 85.85V92.93H40.51Z" fill="#d8384c" stroke="#fff" stroke-width="0.5"/>
<path d="M41.51 85.85H47.92V92.93Z" fill="#301f8a" stroke="#fff" stroke-width="0.5"/>
<path d="M108.20 85.85H114.61V92.93Z" fill="#301f8a" stroke="#fff" stroke-width="0.5"/>
<path d="M108.20 85.85V92.93H114.61Z" fill="#d8384c" stroke="#fff" stroke-width="0.5"/>
<path d="M123.02 85.85H129.43V92.93Z" fill="#301f8a" stroke="#fff" stroke-width="0.5"/>
<path d="M145.25 85.85V92.93H151.66Z" fill="#d8384c" stroke="#fff" stroke-width="0.5"/>
<path d="M152.66 85.85H159.07V92.93Z" fill="#301f8a" stroke="#fff" stroke-width="0.5"/>
<path d="M160.07 85.85H166.48V92.93Z" fill="#301f8a" stroke="#fff" stroke-width="0.5"/>
<path d="M100.79 93.93V101.01H107.20Z" fill="#d8384c" stroke="#fff" stroke-width="0.5"/>
<path d="M123.02 93.93H129.43V101.01Z" fill="#301f8a" stroke="#fff" stroke-width="0.5"/>
<path d="M130.43 93.93H136.84V101.01Z" fill="#301f8a" stroke="#fff" stroke-width="0.5"/>
<path d="M130.43 93.93V101.01H136.84Z" fill="#d8384c" stroke="#fff" stroke-width="0.5"/>
<path d="M137.84 93.93H144.25V101.01Z" fill="#301f8a" stroke="#fff" stroke-width="0.5"/>
<path d="M137.84 93.93V101.01H144.25Z" fill="#d8384c" stroke="#fff" stroke-width="0.5"/>
<path d="M41.51 102.00V109.08H47.92Z" fill="#d8384c" stroke="#fff" stroke-width="0.5"/>
<path d="M174.89 102.00H181.30V109.08Z" fill="#301f8a" stroke="#fff" stroke-width="0.5"/>
<path d="M182.30 102.00H188.71V109.08Z" fill="#301f8a" stroke="#fff" stroke-width="0.5"/>
<path d="M48.92 110.08H55.33V117.16Z" fill="#301f8a" stroke="#fff" stroke-width="0.5"/>
<path d="M48.92 110.08V117.16H55.33Z" fill="#d8384c" stroke="#fff" stroke-width="0.5"/>
<path d="M189.71 110.08H196.12V117.16Z" fill="#301f8a" stroke="#fff" stroke-width="0.5"/>
<path d="M41.51 118.16H47.92V125.24Z" fill="#301f8a" stroke="#fff" stroke-width="0.5"/>
<path d="M56.33 118.16H62.74V125.24Z" fill="#301f8a" stroke="#fff" stroke-width="0.5"/>
<path d="M167.48 126.24H173.89V133.32Z" fill="#301f8a" stroke="#fff" stroke-width="0.5"/>
<path d="M167.48 126.24V133.32H173.89Z" fill="#d8384c" stroke="#fff" stroke-width="0.5"/>
<path d="M145.25 134.32V141.40H151.66Z" fill="#d8384c" stroke="#fff" stroke-width="0.5"/>
<path d="M197.12 142.39H203.53V149.47Z" fill="#301f8a" stroke="#fff" stroke-width="0.5"/>
<path d="M152.66 150.47H159.07V157.55Z" fill="#301f8a" stroke="#fff" stroke-width="0.5"/>
<path d="M145.25 158.55V165.63H151.66Z" fill="#d8384c" stroke="#fff" stroke-width="0.5"/>
<path d="M123.02 166.63H129.43V173.71Z" fill="#301f8a" stroke="#fff" stroke-width="0.5"/>
<path d="M204.53 174.71H210.94V181.79Z" fill="#301f8a" stroke="#fff" stroke-width="0.5"/>
<path d="M26.69 182.78V189.86H33.10Z" fill="#d8384c" stroke="#fff" stroke-width="0.5"/>
<path d="M145.25 190.86V197.94H151.66Z" fill="#d8384c" stroke="#fff" stroke-width="0.5"/>
<path d="M211.94 198.94H218.35V206.02Z" fill="#301f8a" stroke="#fff" stroke-width="0.5"/>
<path d="M204.53 207.02H210.94V214.10Z" fill="#301f8a" stroke="#fff" stroke-width="0.5"/>
<path d="M145.25 215.10V222.18H151.66Z" fill="#d8384c" stroke="#fff" stroke-width="0.5"/>
<text x="23.4" y="84.81" font-size="8.6" text-anchor="end" fill="#231f20">23%</text>
<text x="422.3" y="84.91" font-size="8.7" font-style="italic" fill="#231f20">DNMT3A</text>
<text x="23.4" y="92.89" font-size="8.6" text-anchor="end" fill="#231f20">15%</text>
<text x="422.3" y="92.99" font-size="8.7" font-style="italic" fill="#231f20">TET2</text>
<text x="23.4" y="100.97" font-size="8.6" text-anchor="end" fill="#231f20">8%</text>
<text x="422.3" y="101.07" font-size="8.7" font-style="italic" fill="#231f20">ASXL1</text>
<text x="23.4" y="109.04" font-size="8.6" text-anchor="end" fill="#231f20">6%</text>
<text x="422.3" y="109.14" font-size="8.7" font-style="italic" fill="#231f20">PPM1D</text>
<text x="23.4" y="117.12" font-size="8.6" text-anchor="end" fill="#231f20">4%</text>
<text x="422.3" y="117.22" font-size="8.7" font-style="italic" fill="#231f20">CHEK2</text>
<text x="23.4" y="125.20" font-size="8.6" text-anchor="end" fill="#231f20">4%</text>
<text x="422.3" y="125.30" font-size="8.7" font-style="italic" fill="#231f20">TP53</text>
<text x="23.4" y="133.28" font-size="8.6" text-anchor="end" fill="#231f20">2%</text>
<text x="422.3" y="133.38" font-size="8.7" font-style="italic" fill="#231f20">KRAS</text>
<text x="23.4" y="141.36" font-size="8.6" text-anchor="end" fill="#231f20">2%</text>
<text x="422.3" y="141.46" font-size="8.7" font-style="italic" fill="#231f20">APC</text>
<text x="23.4" y="149.43" font-size="8.6" text-anchor="end" fill="#231f20">2%</text>
<text x="422.3" y="149.53" font-size="8.7" font-style="italic" fill="#231f20">ATM</text>
<text x="23.4" y="157.51" font-size="8.6" text-anchor="end" fill="#231f20">2%</text>
<text x="422.3" y="157.61" font-size="8.7" font-style="italic" fill="#231f20">BRCA2</text>
<text x="23.4" y="165.59" font-size="8.6" text-anchor="end" fill="#231f20">2%</text>
<text x="422.3" y="165.69" font-size="8.7" font-style="italic" fill="#231f20">CARD11</text>
<text x="23.4" y="173.67" font-size="8.6" text-anchor="end" fill="#231f20">2%</text>
<text x="422.3" y="173.77" font-size="8.7" font-style="italic" fill="#231f20">IDH2</text>
<text x="23.4" y="181.75" font-size="8.6" text-anchor="end" fill="#231f20">2%</text>
<text x="422.3" y="181.85" font-size="8.7" font-style="italic" fill="#231f20">MLH1</text>
<text x="23.4" y="189.82" font-size="8.6" text-anchor="end" fill="#231f20">2%</text>
<text x="422.3" y="189.92" font-size="8.7" font-style="italic" fill="#231f20">MPL</text>
<text x="23.4" y="197.90" font-size="8.6" text-anchor="end" fill="#231f20">2%</text>
<text x="422.3" y="198.00" font-size="8.7" font-style="italic" fill="#231f20">NOTCH1</text>
<text x="23.4" y="205.98" font-size="8.6" text-anchor="end" fill="#231f20">2%</text>
<text x="422.3" y="206.08" font-size="8.7" font-style="italic" fill="#231f20">PMS2</text>
<text x="23.4" y="214.06" font-size="8.6" text-anchor="end" fill="#231f20">2%</text>
<text x="422.3" y="214.16" font-size="8.7" font-style="italic" fill="#231f20">POLE</text>
<text x="23.4" y="222.14" font-size="8.6" text-anchor="end" fill="#231f20">2%</text>
<text x="422.3" y="222.24" font-size="8.7" font-style="italic" fill="#231f20">SPEN</text>
<line x1="463" y1="77.6" x2="520" y2="77.6" stroke="#231f20" stroke-width="1"/>
<line x1="465.70" y1="75.2" x2="465.70" y2="77.6" stroke="#231f20" stroke-width="0.8"/>
<text x="465.90" y="70.6" font-size="8.5" text-anchor="middle" fill="#231f20">0</text>
<line x1="489.10" y1="75.2" x2="489.10" y2="77.6" stroke="#231f20" stroke-width="0.8"/>
<text x="489.30" y="70.6" font-size="8.5" text-anchor="middle" fill="#231f20">10</text>
<line x1="512.50" y1="75.2" x2="512.50" y2="77.6" stroke="#231f20" stroke-width="0.8"/>
<text x="512.70" y="70.6" font-size="8.5" text-anchor="middle" fill="#231f20">20</text>
<rect x="466.0" y="79.81" width="23.40" height="4.0" fill="#d8384c"/>
<rect x="489.40" y="79.81" width="28.08" height="4.0" fill="#301f8a"/>
<rect x="466.0" y="87.89" width="9.36" height="4.0" fill="#d8384c"/>
<rect x="475.36" y="87.89" width="16.38" height="4.0" fill="#301f8a"/>
<rect x="466.0" y="95.97" width="7.02" height="4.0" fill="#d8384c"/>
<rect x="473.02" y="95.97" width="7.02" height="4.0" fill="#301f8a"/>
<rect x="466.0" y="104.04" width="2.34" height="4.0" fill="#d8384c"/>
<rect x="468.34" y="104.04" width="4.68" height="4.0" fill="#301f8a"/>
<rect x="466.0" y="112.12" width="2.34" height="4.0" fill="#d8384c"/>
<rect x="468.34" y="112.12" width="4.68" height="4.0" fill="#301f8a"/>
<rect x="466.00" y="120.20" width="4.68" height="4.0" fill="#301f8a"/>
<rect x="466.0" y="128.28" width="2.34" height="4.0" fill="#d8384c"/>
<rect x="468.34" y="128.28" width="2.34" height="4.0" fill="#301f8a"/>
<rect x="466.0" y="136.36" width="2.34" height="4.0" fill="#d8384c"/>
<rect x="466.00" y="144.43" width="2.34" height="4.0" fill="#301f8a"/>
<rect x="466.00" y="152.51" width="2.34" height="4.0" fill="#301f8a"/>
<rect x="466.0" y="160.59" width="2.34" height="4.0" fill="#d8384c"/>
<rect x="466.00" y="168.67" width="2.34" height="4.0" fill="#301f8a"/>
<rect x="466.00" y="176.75" width="2.34" height="4.0" fill="#301f8a"/>
<rect x="466.0" y="184.82" width="2.34" height="4.0" fill="#d8384c"/>
<rect x="466.0" y="192.90" width="2.34" height="4.0" fill="#d8384c"/>
<rect x="466.00" y="200.98" width="2.34" height="4.0" fill="#301f8a"/>
<rect x="466.00" y="209.06" width="2.34" height="4.0" fill="#301f8a"/>
<rect x="466.0" y="217.14" width="2.34" height="4.0" fill="#d8384c"/>
<rect x="494" y="133.8" width="9.8" height="9.8" fill="#d8384c"/>
<rect x="494" y="146.4" width="9.8" height="9.8" fill="#301f8a"/>
<text x="507.3" y="141.4" font-size="8" fill="#231f20">BM</text>
<text x="507.3" y="154" font-size="8" fill="#231f20">PB</text>
<rect x="26.0" y="224.85" width="393.10" height="76.52" fill="#111"/>
<rect x="27.0" y="225.95" width="391.10" height="7.28" fill="#fff"/>
<rect x="26.69" y="225.95" width="6.41" height="7.28" fill="#d7364b"/>
<rect x="34.10" y="225.95" width="6.41" height="7.28" fill="#d7364b"/>
<rect x="41.51" y="225.95" width="6.41" height="7.28" fill="#d7364b"/>
<rect x="48.92" y="225.95" width="6.41" height="7.28" fill="#d7364b"/>
<rect x="56.33" y="225.95" width="6.41" height="7.28" fill="#d7364b"/>
<rect x="63.74" y="225.95" width="6.41" height="7.28" fill="#d7364b"/>
<rect x="71.15" y="225.95" width="6.41" height="7.28" fill="#d7364b"/>
<rect x="78.56" y="225.95" width="6.41" height="7.28" fill="#d7364b"/>
<rect x="85.97" y="225.95" width="6.41" height="7.28" fill="#d7364b"/>
<rect x="93.38" y="225.95" width="6.41" height="7.28" fill="#d7364b"/>
<rect x="100.79" y="225.95" width="6.41" height="7.28" fill="#d7364b"/>
<rect x="108.20" y="225.95" width="6.41" height="7.28" fill="#d7364b"/>
<rect x="115.61" y="225.95" width="6.41" height="7.28" fill="#d7364b"/>
<rect x="123.02" y="225.95" width="6.41" height="7.28" fill="#dfdfdf"/>
<rect x="130.43" y="225.95" width="6.41" height="7.28" fill="#d7364b"/>
<rect x="137.84" y="225.95" width="6.41" height="7.28" fill="#d7364b"/>
<rect x="145.25" y="225.95" width="6.41" height="7.28" fill="#d7364b"/>
<rect x="152.66" y="225.95" width="6.41" height="7.28" fill="#dfdfdf"/>
<rect x="160.07" y="225.95" width="6.41" height="7.28" fill="#dfdfdf"/>
<rect x="167.48" y="225.95" width="6.41" height="7.28" fill="#d7364b"/>
<rect x="174.89" y="225.95" width="6.41" height="7.28" fill="#d7364b"/>
<rect x="182.30" y="225.95" width="6.41" height="7.28" fill="#dfdfdf"/>
<rect x="189.71" y="225.95" width="6.41" height="7.28" fill="#dfdfdf"/>
<rect x="197.12" y="225.95" width="6.41" height="7.28" fill="#d7364b"/>
<rect x="204.53" y="225.95" width="6.41" height="7.28" fill="#dfdfdf"/>
<rect x="211.94" y="225.95" width="6.41" height="7.28" fill="#dfdfdf"/>
<rect x="219.35" y="225.95" width="6.41" height="7.28" fill="#dfdfdf"/>
<rect x="226.76" y="225.95" width="6.41" height="7.28" fill="#dfdfdf"/>
<rect x="234.17" y="225.95" width="6.41" height="7.28" fill="#dfdfdf"/>
<rect x="241.58" y="225.95" width="6.41" height="7.28" fill="#dfdfdf"/>
<rect x="248.99" y="225.95" width="6.41" height="7.28" fill="#dfdfdf"/>
<rect x="256.40" y="225.95" width="6.41" height="7.28" fill="#dfdfdf"/>
<rect x="263.81" y="225.95" width="6.41" height="7.28" fill="#dfdfdf"/>
<rect x="271.22" y="225.95" width="6.41" height="7.28" fill="#dfdfdf"/>
<rect x="278.63" y="225.95" width="6.41" height="7.28" fill="#dfdfdf"/>
<rect x="286.04" y="225.95" width="6.41" height="7.28" fill="#dfdfdf"/>
<rect x="293.45" y="225.95" width="6.41" height="7.28" fill="#dfdfdf"/>
<rect x="300.86" y="225.95" width="6.41" height="7.28" fill="#dfdfdf"/>
<rect x="308.27" y="225.95" width="6.41" height="7.28" fill="#d7364b"/>
<rect x="315.68" y="225.95" width="6.41" height="7.28" fill="#dfdfdf"/>
<rect x="323.09" y="225.95" width="6.41" height="7.28" fill="#dfdfdf"/>
<rect x="330.50" y="225.95" width="6.41" height="7.28" fill="#dfdfdf"/>
<rect x="337.91" y="225.95" width="6.41" height="7.28" fill="#dfdfdf"/>
<rect x="345.32" y="225.95" width="6.41" height="7.28" fill="#dfdfdf"/>
<rect x="352.73" y="225.95" width="6.41" height="7.28" fill="#dfdfdf"/>
<rect x="360.14" y="225.95" width="6.41" height="7.28" fill="#d7364b"/>
<rect x="367.55" y="225.95" width="6.41" height="7.28" fill="#d7364b"/>
<rect x="374.96" y="225.95" width="6.41" height="7.28" fill="#d7364b"/>
<rect x="382.37" y="225.95" width="6.41" height="7.28" fill="#d7364b"/>
<rect x="389.78" y="225.95" width="6.41" height="7.28" fill="#d7364b"/>
<rect x="397.19" y="225.95" width="6.41" height="7.28" fill="#dfdfdf"/>
<rect x="404.60" y="225.95" width="6.41" height="7.28" fill="#d7364b"/>
<rect x="412.01" y="225.95" width="6.09" height="7.28" fill="#d7364b"/>
<text x="421.9" y="232.29" font-size="7.7" fill="#231f20">BM available</text>
<rect x="27.0" y="234.33" width="391.10" height="7.28" fill="#fff"/>
<rect x="26.69" y="234.33" width="6.41" height="7.28" fill="#a9bf82"/>
<rect x="34.10" y="234.33" width="6.41" height="7.28" fill="#626262"/>
<rect x="41.51" y="234.33" width="6.41" height="7.28" fill="#626262"/>
<rect x="48.92" y="234.33" width="6.41" height="7.28" fill="#a9bf82"/>
<rect x="56.33" y="234.33" width="6.41" height="7.28" fill="#626262"/>
<rect x="63.74" y="234.33" width="6.41" height="7.28" fill="#a9bf82"/>
<rect x="71.15" y="234.33" width="6.41" height="7.28" fill="#626262"/>
<rect x="78.56" y="234.33" width="6.41" height="7.28" fill="#626262"/>
<rect x="85.97" y="234.33" width="6.41" height="7.28" fill="#626262"/>
<rect x="93.38" y="234.33" width="6.41" height="7.28" fill="#626262"/>
<rect x="100.79" y="234.33" width="6.41" height="7.28" fill="#a9bf82"/>
<rect x="108.20" y="234.33" width="6.41" height="7.28" fill="#626262"/>
<rect x="115.61" y="234.33" width="6.41" height="7.28" fill="#a9bf82"/>
<rect x="123.02" y="234.33" width="6.41" height="7.28" fill="#a9bf82"/>
<rect x="130.43" y="234.33" width="6.41" height="7.28" fill="#a9bf82"/>
<rect x="137.84" y="234.33" width="6.41" height="7.28" fill="#626262"/>
<rect x="145.25" y="234.33" width="6.41" height="7.28" fill="#a9bf82"/>
<rect x="152.66" y="234.33" width="6.41" height="7.28" fill="#626262"/>
<rect x="160.07" y="234.33" width="6.41" height="7.28" fill="#a9bf82"/>
<rect x="167.48" y="234.33" width="6.41" height="7.28" fill="#a9bf82"/>
<rect x="174.89" y="234.33" width="6.41" height="7.28" fill="#a9bf82"/>
<rect x="182.30" y="234.33" width="6.41" height="7.28" fill="#a9bf82"/>
<rect x="189.71" y="234.33" width="6.41" height="7.28" fill="#a9bf82"/>
<rect x="197.12" y="234.33" width="6.41" height="7.28" fill="#626262"/>
<rect x="204.53" y="234.33" width="6.41" height="7.28" fill="#626262"/>
<rect x="211.94" y="234.33" width="6.41" height="7.28" fill="#626262"/>
<rect x="219.35" y="234.33" width="6.41" height="7.28" fill="#626262"/>
<rect x="226.76" y="234.33" width="6.41" height="7.28" fill="#a9bf82"/>
<rect x="234.17" y="234.33" width="6.41" height="7.28" fill="#a9bf82"/>
<rect x="241.58" y="234.33" width="6.41" height="7.28" fill="#626262"/>
<rect x="248.99" y="234.33" width="6.41" height="7.28" fill="#626262"/>
<rect x="256.40" y="234.33" width="6.41" height="7.28" fill="#a9bf82"/>
<rect x="263.81" y="234.33" width="6.41" height="7.28" fill="#a9bf82"/>
<rect x="271.22" y="234.33" width="6.41" height="7.28" fill="#626262"/>
<rect x="278.63" y="234.33" width="6.41" height="7.28" fill="#a9bf82"/>
<rect x="286.04" y="234.33" width="6.41" height="7.28" fill="#626262"/>
<rect x="293.45" y="234.33" width="6.41" height="7.28" fill="#626262"/>
<rect x="300.86" y="234.33" width="6.41" height="7.28" fill="#626262"/>
<rect x="308.27" y="234.33" width="6.41" height="7.28" fill="#a9bf82"/>
<rect x="315.68" y="234.33" width="6.41" height="7.28" fill="#626262"/>
<rect x="323.09" y="234.33" width="6.41" height="7.28" fill="#626262"/>
<rect x="330.50" y="234.33" width="6.41" height="7.28" fill="#626262"/>
<rect x="337.91" y="234.33" width="6.41" height="7.28" fill="#a9bf82"/>
<rect x="345.32" y="234.33" width="6.41" height="7.28" fill="#626262"/>
<rect x="352.73" y="234.33" width="6.41" height="7.28" fill="#626262"/>
<rect x="360.14" y="234.33" width="6.41" height="7.28" fill="#626262"/>
<rect x="367.55" y="234.33" width="6.41" height="7.28" fill="#626262"/>
<rect x="374.96" y="234.33" width="6.41" height="7.28" fill="#a9bf82"/>
<rect x="382.37" y="234.33" width="6.41" height="7.28" fill="#626262"/>
<rect x="389.78" y="234.33" width="6.41" height="7.28" fill="#626262"/>
<rect x="397.19" y="234.33" width="6.41" height="7.28" fill="#626262"/>
<rect x="404.60" y="234.33" width="6.41" height="7.28" fill="#626262"/>
<rect x="412.01" y="234.33" width="6.09" height="7.28" fill="#626262"/>
<text x="421.9" y="240.67" font-size="7.7" fill="#231f20">Sex</text>
<rect x="27.0" y="242.71" width="391.10" height="7.28" fill="#fff"/>
<rect x="26.69" y="242.71" width="6.41" height="7.28" fill="#c8177f"/>
<rect x="34.10" y="242.71" width="6.41" height="7.28" fill="#c8177f"/>
<rect x="41.51" y="242.71" width="6.41" height="7.28" fill="#c8177f"/>
<rect x="48.92" y="242.71" width="6.41" height="7.28" fill="#c8177f"/>
<rect x="56.33" y="242.71" width="6.41" height="7.28" fill="#c8177f"/>
<rect x="63.74" y="242.71" width="6.41" height="7.28" fill="#f9c6bf"/>
<rect x="71.15" y="242.71" width="6.41" height="7.28" fill="#c8177f"/>
<rect x="78.56" y="242.71" width="6.41" height="7.28" fill="#c8177f"/>
<rect x="85.97" y="242.71" width="6.41" height="7.28" fill="#f9c6bf"/>
<rect x="93.38" y="242.71" width="6.41" height="7.28" fill="#c8177f"/>
<rect x="100.79" y="242.71" width="6.41" height="7.28" fill="#f9c6bf"/>
<rect x="108.20" y="242.71" width="6.41" height="7.28" fill="#c8177f"/>
<rect x="115.61" y="242.71" width="6.41" height="7.28" fill="#c8177f"/>
<rect x="123.02" y="242.71" width="6.41" height="7.28" fill="#c8177f"/>
<rect x="130.43" y="242.71" width="6.41" height="7.28" fill="#c8177f"/>
<rect x="137.84" y="242.71" width="6.41" height="7.28" fill="#f9c6bf"/>
<rect x="145.25" y="242.71" width="6.41" height="7.28" fill="#f9c6bf"/>
<rect x="152.66" y="242.71" width="6.41" height="7.28" fill="#c8177f"/>
<rect x="160.07" y="242.71" width="6.41" height="7.28" fill="#f9c6bf"/>
<rect x="167.48" y="242.71" width="6.41" height="7.28" fill="#f9c6bf"/>
<rect x="174.89" y="242.71" width="6.41" height="7.28" fill="#f9c6bf"/>
<rect x="182.30" y="242.71" width="6.41" height="7.28" fill="#c8177f"/>
<rect x="189.71" y="242.71" width="6.41" height="7.28" fill="#c8177f"/>
<rect x="197.12" y="242.71" width="6.41" height="7.28" fill="#f9c6bf"/>
<rect x="204.53" y="242.71" width="6.41" height="7.28" fill="#f9c6bf"/>
<rect x="211.94" y="242.71" width="6.41" height="7.28" fill="#f9c6bf"/>
<rect x="219.35" y="242.71" width="6.41" height="7.28" fill="#c8177f"/>
<rect x="226.76" y="242.71" width="6.41" height="7.28" fill="#c8177f"/>
<rect x="234.17" y="242.71" width="6.41" height="7.28" fill="#f9c6bf"/>
<rect x="241.58" y="242.71" width="6.41" height="7.28" fill="#c8177f"/>
<rect x="248.99" y="242.71" width="6.41" height="7.28" fill="#c8177f"/>
<rect x="256.40" y="242.71" width="6.41" height="7.28" fill="#f9c6bf"/>
<rect x="263.81" y="242.71" width="6.41" height="7.28" fill="#c8177f"/>
<rect x="271.22" y="242.71" width="6.41" height="7.28" fill="#c8177f"/>
<rect x="278.63" y="242.71" width="6.41" height="7.28" fill="#f9c6bf"/>
<rect x="286.04" y="242.71" width="6.41" height="7.28" fill="#f9c6bf"/>
<rect x="293.45" y="242.71" width="6.41" height="7.28" fill="#f9c6bf"/>
<rect x="300.86" y="242.71" width="6.41" height="7.28" fill="#f9c6bf"/>
<rect x="308.27" y="242.71" width="6.41" height="7.28" fill="#c8177f"/>
<rect x="315.68" y="242.71" width="6.41" height="7.28" fill="#c8177f"/>
<rect x="323.09" y="242.71" width="6.41" height="7.28" fill="#f9c6bf"/>
<rect x="330.50" y="242.71" width="6.41" height="7.28" fill="#f9c6bf"/>
<rect x="337.91" y="242.71" width="6.41" height="7.28" fill="#f9c6bf"/>
<rect x="345.32" y="242.71" width="6.41" height="7.28" fill="#f9c6bf"/>
<rect x="352.73" y="242.71" width="6.41" height="7.28" fill="#c8177f"/>
<rect x="360.14" y="242.71" width="6.41" height="7.28" fill="#f9c6bf"/>
<rect x="367.55" y="242.71" width="6.41" height="7.28" fill="#c8177f"/>
<rect x="374.96" y="242.71" width="6.41" height="7.28" fill="#f9c6bf"/>
<rect x="382.37" y="242.71" width="6.41" height="7.28" fill="#f9c6bf"/>
<rect x="389.78" y="242.71" width="6.41" height="7.28" fill="#c8177f"/>
<rect x="397.19" y="242.71" width="6.41" height="7.28" fill="#c8177f"/>
<rect x="404.60" y="242.71" width="6.41" height="7.28" fill="#c8177f"/>
<rect x="412.01" y="242.71" width="6.09" height="7.28" fill="#f9c6bf"/>
<text x="421.9" y="249.05" font-size="7.7" fill="#231f20">Age</text>
<rect x="27.0" y="251.09" width="391.10" height="7.28" fill="#fff"/>
<rect x="26.69" y="251.09" width="6.41" height="7.28" fill="#6cb0df"/>
<rect x="34.10" y="251.09" width="6.41" height="7.28" fill="#6cb0df"/>
<rect x="41.51" y="251.09" width="6.41" height="7.28" fill="#6cb0df"/>
<rect x="48.92" y="251.09" width="6.41" height="7.28" fill="#1f6cc0"/>
<rect x="56.33" y="251.09" width="6.41" height="7.28" fill="#6cb0df"/>
<rect x="63.74" y="251.09" width="6.41" height="7.28" fill="#6cb0df"/>
<rect x="71.15" y="251.09" width="6.41" height="7.28" fill="#6cb0df"/>
<rect x="78.56" y="251.09" width="6.41" height="7.28" fill="#6cb0df"/>
<rect x="85.97" y="251.09" width="6.41" height="7.28" fill="#6cb0df"/>
<rect x="93.38" y="251.09" width="6.41" height="7.28" fill="#6cb0df"/>
<rect x="100.79" y="251.09" width="6.41" height="7.28" fill="#6cb0df"/>
<rect x="108.20" y="251.09" width="6.41" height="7.28" fill="#6cb0df"/>
<rect x="115.61" y="251.09" width="6.41" height="7.28" fill="#6cb0df"/>
<rect x="123.02" y="251.09" width="6.41" height="7.28" fill="#6cb0df"/>
<rect x="130.43" y="251.09" width="6.41" height="7.28" fill="#6cb0df"/>
<rect x="137.84" y="251.09" width="6.41" height="7.28" fill="#6cb0df"/>
<rect x="145.25" y="251.09" width="6.41" height="7.28" fill="#6cb0df"/>
<rect x="152.66" y="251.09" width="6.41" height="7.28" fill="#6cb0df"/>
<rect x="160.07" y="251.09" width="6.41" height="7.28" fill="#6cb0df"/>
<rect x="167.48" y="251.09" width="6.41" height="7.28" fill="#6cb0df"/>
<rect x="174.89" y="251.09" width="6.41" height="7.28" fill="#6cb0df"/>
<rect x="182.30" y="251.09" width="6.41" height="7.28" fill="#6cb0df"/>
<rect x="189.71" y="251.09" width="6.41" height="7.28" fill="#6cb0df"/>
<rect x="197.12" y="251.09" width="6.41" height="7.28" fill="#6cb0df"/>
<rect x="204.53" y="251.09" width="6.41" height="7.28" fill="#6cb0df"/>
<rect x="211.94" y="251.09" width="6.41" height="7.28" fill="#6cb0df"/>
<rect x="219.35" y="251.09" width="6.41" height="7.28" fill="#6cb0df"/>
<rect x="226.76" y="251.09" width="6.41" height="7.28" fill="#6cb0df"/>
<rect x="234.17" y="251.09" width="6.41" height="7.28" fill="#6cb0df"/>
<rect x="241.58" y="251.09" width="6.41" height="7.28" fill="#6cb0df"/>
<rect x="248.99" y="251.09" width="6.41" height="7.28" fill="#6cb0df"/>
<rect x="256.40" y="251.09" width="6.41" height="7.28" fill="#6cb0df"/>
<rect x="263.81" y="251.09" width="6.41" height="7.28" fill="#6cb0df"/>
<rect x="271.22" y="251.09" width="6.41" height="7.28" fill="#6cb0df"/>
<rect x="278.63" y="251.09" width="6.41" height="7.28" fill="#6cb0df"/>
<rect x="286.04" y="251.09" width="6.41" height="7.28" fill="#6cb0df"/>
<rect x="293.45" y="251.09" width="6.41" height="7.28" fill="#6cb0df"/>
<rect x="300.86" y="251.09" width="6.41" height="7.28" fill="#6cb0df"/>
<rect x="308.27" y="251.09" width="6.41" height="7.28" fill="#6cb0df"/>
<rect x="315.68" y="251.09" width="6.41" height="7.28" fill="#6cb0df"/>
<rect x="323.09" y="251.09" width="6.41" height="7.28" fill="#6cb0df"/>
<rect x="330.50" y="251.09" width="6.41" height="7.28" fill="#6cb0df"/>
<rect x="337.91" y="251.09" width="6.41" height="7.28" fill="#6cb0df"/>
<rect x="345.32" y="251.09" width="6.41" height="7.28" fill="#6cb0df"/>
<rect x="352.73" y="251.09" width="6.41" height="7.28" fill="#6cb0df"/>
<rect x="360.14" y="251.09" width="6.41" height="7.28" fill="#6cb0df"/>
<rect x="367.55" y="251.09" width="6.41" height="7.28" fill="#1f6cc0"/>
<rect x="374.96" y="251.09" width="6.41" height="7.28" fill="#6cb0df"/>
<rect x="382.37" y="251.09" width="6.41" height="7.28" fill="#6cb0df"/>
<rect x="389.78" y="251.09" width="6.41" height="7.28" fill="#6cb0df"/>
<rect x="397.19" y="251.09" width="6.41" height="7.28" fill="#6cb0df"/>
<rect x="404.60" y="251.09" width="6.41" height="7.28" fill="#6cb0df"/>
<rect x="412.01" y="251.09" width="6.09" height="7.28" fill="#6cb0df"/>
<text x="421.9" y="257.43" font-size="7.7" fill="#231f20">WBC</text>
<rect x="27.0" y="259.47" width="391.10" height="7.28" fill="#fff"/>
<rect x="26.69" y="259.47" width="6.41" height="7.28" fill="#2aa54a"/>
<rect x="34.10" y="259.47" width="6.41" height="7.28" fill="#2aa54a"/>
<rect x="41.51" y="259.47" width="6.41" height="7.28" fill="#2aa54a"/>
<rect x="48.92" y="259.47" width="6.41" height="7.28" fill="#2aa54a"/>
<rect x="56.33" y="259.47" width="6.41" height="7.28" fill="#2aa54a"/>
<rect x="63.74" y="259.47" width="6.41" height="7.28" fill="#2aa54a"/>
<rect x="71.15" y="259.47" width="6.41" height="7.28" fill="#2aa54a"/>
<rect x="78.56" y="259.47" width="6.41" height="7.28" fill="#2aa54a"/>
<rect x="85.97" y="259.47" width="6.41" height="7.28" fill="#2aa54a"/>
<rect x="93.38" y="259.47" width="6.41" height="7.28" fill="#2aa54a"/>
<rect x="100.79" y="259.47" width="6.41" height="7.28" fill="#2aa54a"/>
<rect x="108.20" y="259.47" width="6.41" height="7.28" fill="#2aa54a"/>
<rect x="115.61" y="259.47" width="6.41" height="7.28" fill="#2aa54a"/>
<rect x="123.02" y="259.47" width="6.41" height="7.28" fill="#ebf4e5"/>
<rect x="130.43" y="259.47" width="6.41" height="7.28" fill="#2aa54a"/>
<rect x="137.84" y="259.47" width="6.41" height="7.28" fill="#2aa54a"/>
<rect x="145.25" y="259.47" width="6.41" height="7.28" fill="#2aa54a"/>
<rect x="152.66" y="259.47" width="6.41" height="7.28" fill="#2aa54a"/>
<rect x="160.07" y="259.47" width="6.41" height="7.28" fill="#2aa54a"/>
<rect x="167.48" y="259.47" width="6.41" height="7.28" fill="#2aa54a"/>
<rect x="174.89" y="259.47" width="6.41" height="7.28" fill="#2aa54a"/>
<rect x="182.30" y="259.47" width="6.41" height="7.28" fill="#2aa54a"/>
<rect x="189.71" y="259.47" width="6.41" height="7.28" fill="#ebf4e5"/>
<rect x="197.12" y="259.47" width="6.41" height="7.28" fill="#2aa54a"/>
<rect x="204.53" y="259.47" width="6.41" height="7.28" fill="#2aa54a"/>
<rect x="211.94" y="259.47" width="6.41" height="7.28" fill="#2aa54a"/>
<rect x="219.35" y="259.47" width="6.41" height="7.28" fill="#2aa54a"/>
<rect x="226.76" y="259.47" width="6.41" height="7.28" fill="#2aa54a"/>
<rect x="234.17" y="259.47" width="6.41" height="7.28" fill="#2aa54a"/>
<rect x="241.58" y="259.47" width="6.41" height="7.28" fill="#2aa54a"/>
<rect x="248.99" y="259.47" width="6.41" height="7.28" fill="#2aa54a"/>
<rect x="256.40" y="259.47" width="6.41" height="7.28" fill="#2aa54a"/>
<rect x="263.81" y="259.47" width="6.41" height="7.28" fill="#2aa54a"/>
<rect x="271.22" y="259.47" width="6.41" height="7.28" fill="#2aa54a"/>
<rect x="278.63" y="259.47" width="6.41" height="7.28" fill="#2aa54a"/>
<rect x="286.04" y="259.47" width="6.41" height="7.28" fill="#ebf4e5"/>
<rect x="293.45" y="259.47" width="6.41" height="7.28" fill="#2aa54a"/>
<rect x="300.86" y="259.47" width="6.41" height="7.28" fill="#2aa54a"/>
<rect x="308.27" y="259.47" width="6.41" height="7.28" fill="#2aa54a"/>
<rect x="315.68" y="259.47" width="6.41" height="7.28" fill="#2aa54a"/>
<rect x="323.09" y="259.47" width="6.41" height="7.28" fill="#2aa54a"/>
<rect x="330.50" y="259.47" width="6.41" height="7.28" fill="#2aa54a"/>
<rect x="337.91" y="259.47" width="6.41" height="7.28" fill="#2aa54a"/>
<rect x="345.32" y="259.47" width="6.41" height="7.28" fill="#2aa54a"/>
<rect x="352.73" y="259.47" width="6.41" height="7.28" fill="#2aa54a"/>
<rect x="360.14" y="259.47" width="6.41" height="7.28" fill="#2aa54a"/>
<rect x="367.55" y="259.47" width="6.41" height="7.28" fill="#2aa54a"/>
<rect x="374.96" y="259.47" width="6.41" height="7.28" fill="#2aa54a"/>
<rect x="382.37" y="259.47" width="6.41" height="7.28" fill="#2aa54a"/>
<rect x="389.78" y="259.47" width="6.41" height="7.28" fill="#2aa54a"/>
<rect x="397.19" y="259.47" width="6.41" height="7.28" fill="#2aa54a"/>
<rect x="404.60" y="259.47" width="6.41" height="7.28" fill="#2aa54a"/>
<rect x="412.01" y="259.47" width="6.09" height="7.28" fill="#2aa54a"/>
<text x="421.9" y="265.81" font-size="7.7" fill="#231f20">Hgb</text>
<rect x="27.0" y="267.85" width="391.10" height="7.28" fill="#fff"/>
<rect x="26.69" y="267.85" width="6.41" height="7.28" fill="#a19bd6"/>
<rect x="34.10" y="267.85" width="6.41" height="7.28" fill="#6147a6"/>
<rect x="41.51" y="267.85" width="6.41" height="7.28" fill="#6147a6"/>
<rect x="48.92" y="267.85" width="6.41" height="7.28" fill="#a19bd6"/>
<rect x="56.33" y="267.85" width="6.41" height="7.28" fill="#a19bd6"/>
<rect x="63.74" y="267.85" width="6.41" height="7.28" fill="#a19bd6"/>
<rect x="71.15" y="267.85" width="6.41" height="7.28" fill="#a19bd6"/>
<rect x="78.56" y="267.85" width="6.41" height="7.28" fill="#6147a6"/>
<rect x="85.97" y="267.85" width="6.41" height="7.28" fill="#a19bd6"/>
<rect x="93.38" y="267.85" width="6.41" height="7.28" fill="#a19bd6"/>
<rect x="100.79" y="267.85" width="6.41" height="7.28" fill="#a19bd6"/>
<rect x="108.20" y="267.85" width="6.41" height="7.28" fill="#a19bd6"/>
<rect x="115.61" y="267.85" width="6.41" height="7.28" fill="#6147a6"/>
<rect x="123.02" y="267.85" width="6.41" height="7.28" fill="#6147a6"/>
<rect x="130.43" y="267.85" width="6.41" height="7.28" fill="#6147a6"/>
<rect x="137.84" y="267.85" width="6.41" height="7.28" fill="#6147a6"/>
<rect x="145.25" y="267.85" width="6.41" height="7.28" fill="#6147a6"/>
<rect x="152.66" y="267.85" width="6.41" height="7.28" fill="#a19bd6"/>
<rect x="160.07" y="267.85" width="6.41" height="7.28" fill="#a19bd6"/>
<rect x="167.48" y="267.85" width="6.41" height="7.28" fill="#6147a6"/>
<rect x="174.89" y="267.85" width="6.41" height="7.28" fill="#6147a6"/>
<rect x="182.30" y="267.85" width="6.41" height="7.28" fill="#a19bd6"/>
<rect x="189.71" y="267.85" width="6.41" height="7.28" fill="#6147a6"/>
<rect x="197.12" y="267.85" width="6.41" height="7.28" fill="#a19bd6"/>
<rect x="204.53" y="267.85" width="6.41" height="7.28" fill="#a19bd6"/>
<rect x="211.94" y="267.85" width="6.41" height="7.28" fill="#a19bd6"/>
<rect x="219.35" y="267.85" width="6.41" height="7.28" fill="#a19bd6"/>
<rect x="226.76" y="267.85" width="6.41" height="7.28" fill="#a19bd6"/>
<rect x="234.17" y="267.85" width="6.41" height="7.28" fill="#a19bd6"/>
<rect x="241.58" y="267.85" width="6.41" height="7.28" fill="#a19bd6"/>
<rect x="248.99" y="267.85" width="6.41" height="7.28" fill="#6147a6"/>
<rect x="256.40" y="267.85" width="6.41" height="7.28" fill="#a19bd6"/>
<rect x="263.81" y="267.85" width="6.41" height="7.28" fill="#6147a6"/>
<rect x="271.22" y="267.85" width="6.41" height="7.28" fill="#a19bd6"/>
<rect x="278.63" y="267.85" width="6.41" height="7.28" fill="#a19bd6"/>
<rect x="286.04" y="267.85" width="6.41" height="7.28" fill="#6147a6"/>
<rect x="293.45" y="267.85" width="6.41" height="7.28" fill="#6147a6"/>
<rect x="300.86" y="267.85" width="6.41" height="7.28" fill="#6147a6"/>
<rect x="308.27" y="267.85" width="6.41" height="7.28" fill="#6147a6"/>
<rect x="315.68" y="267.85" width="6.41" height="7.28" fill="#a19bd6"/>
<rect x="323.09" y="267.85" width="6.41" height="7.28" fill="#a19bd6"/>
<rect x="330.50" y="267.85" width="6.41" height="7.28" fill="#6147a6"/>
<rect x="337.91" y="267.85" width="6.41" height="7.28" fill="#a19bd6"/>
<rect x="345.32" y="267.85" width="6.41" height="7.28" fill="#6147a6"/>
<rect x="352.73" y="267.85" width="6.41" height="7.28" fill="#6147a6"/>
<rect x="360.14" y="267.85" width="6.41" height="7.28" fill="#a19bd6"/>
<rect x="367.55" y="267.85" width="6.41" height="7.28" fill="#6147a6"/>
<rect x="374.96" y="267.85" width="6.41" height="7.28" fill="#a19bd6"/>
<rect x="382.37" y="267.85" width="6.41" height="7.28" fill="#a19bd6"/>
<rect x="389.78" y="267.85" width="6.41" height="7.28" fill="#a19bd6"/>
<rect x="397.19" y="267.85" width="6.41" height="7.28" fill="#a19bd6"/>
<rect x="404.60" y="267.85" width="6.41" height="7.28" fill="#a19bd6"/>
<rect x="412.01" y="267.85" width="6.09" height="7.28" fill="#a19bd6"/>
<text x="421.9" y="274.19" font-size="7.7" fill="#231f20">RDW</text>
<rect x="27.0" y="276.23" width="391.10" height="7.28" fill="#fff"/>
<rect x="26.69" y="276.23" width="6.41" height="7.28" fill="#f38d6d"/>
<rect x="34.10" y="276.23" width="6.41" height="7.28" fill="#fde3d5"/>
<rect x="41.51" y="276.23" width="6.41" height="7.28" fill="#f38d6d"/>
<rect x="48.92" y="276.23" width="6.41" height="7.28" fill="#f38d6d"/>
<rect x="56.33" y="276.23" width="6.41" height="7.28" fill="#fde3d5"/>
<rect x="63.74" y="276.23" width="6.41" height="7.28" fill="#f38d6d"/>
<rect x="71.15" y="276.23" width="6.41" height="7.28" fill="#f38d6d"/>
<rect x="78.56" y="276.23" width="6.41" height="7.28" fill="#f38d6d"/>
<rect x="85.97" y="276.23" width="6.41" height="7.28" fill="#f38d6d"/>
<rect x="93.38" y="276.23" width="6.41" height="7.28" fill="#f38d6d"/>
<rect x="100.79" y="276.23" width="6.41" height="7.28" fill="#f38d6d"/>
<rect x="108.20" y="276.23" width="6.41" height="7.28" fill="#f38d6d"/>
<rect x="115.61" y="276.23" width="6.41" height="7.28" fill="#f38d6d"/>
<rect x="123.02" y="276.23" width="6.41" height="7.28" fill="#f38d6d"/>
<rect x="130.43" y="276.23" width="6.41" height="7.28" fill="#f38d6d"/>
<rect x="137.84" y="276.23" width="6.41" height="7.28" fill="#f38d6d"/>
<rect x="145.25" y="276.23" width="6.41" height="7.28" fill="#f38d6d"/>
<rect x="152.66" y="276.23" width="6.41" height="7.28" fill="#f38d6d"/>
<rect x="160.07" y="276.23" width="6.41" height="7.28" fill="#f38d6d"/>
<rect x="167.48" y="276.23" width="6.41" height="7.28" fill="#f38d6d"/>
<rect x="174.89" y="276.23" width="6.41" height="7.28" fill="#f38d6d"/>
<rect x="182.30" y="276.23" width="6.41" height="7.28" fill="#f38d6d"/>
<rect x="189.71" y="276.23" width="6.41" height="7.28" fill="#f38d6d"/>
<rect x="197.12" y="276.23" width="6.41" height="7.28" fill="#f38d6d"/>
<rect x="204.53" y="276.23" width="6.41" height="7.28" fill="#f38d6d"/>
<rect x="211.94" y="276.23" width="6.41" height="7.28" fill="#f38d6d"/>
<rect x="219.35" y="276.23" width="6.41" height="7.28" fill="#f38d6d"/>
<rect x="226.76" y="276.23" width="6.41" height="7.28" fill="#f38d6d"/>
<rect x="234.17" y="276.23" width="6.41" height="7.28" fill="#f38d6d"/>
<rect x="241.58" y="276.23" width="6.41" height="7.28" fill="#f38d6d"/>
<rect x="248.99" y="276.23" width="6.41" height="7.28" fill="#f38d6d"/>
<rect x="256.40" y="276.23" width="6.41" height="7.28" fill="#f38d6d"/>
<rect x="263.81" y="276.23" width="6.41" height="7.28" fill="#f38d6d"/>
<rect x="271.22" y="276.23" width="6.41" height="7.28" fill="#f38d6d"/>
<rect x="278.63" y="276.23" width="6.41" height="7.28" fill="#f38d6d"/>
<rect x="286.04" y="276.23" width="6.41" height="7.28" fill="#f38d6d"/>
<rect x="293.45" y="276.23" width="6.41" height="7.28" fill="#f38d6d"/>
<rect x="300.86" y="276.23" width="6.41" height="7.28" fill="#f38d6d"/>
<rect x="308.27" y="276.23" width="6.41" height="7.28" fill="#f38d6d"/>
<rect x="315.68" y="276.23" width="6.41" height="7.28" fill="#f38d6d"/>
<rect x="323.09" y="276.23" width="6.41" height="7.28" fill="#f38d6d"/>
<rect x="330.50" y="276.23" width="6.41" height="7.28" fill="#f38d6d"/>
<rect x="337.91" y="276.23" width="6.41" height="7.28" fill="#f38d6d"/>
<rect x="345.32" y="276.23" width="6.41" height="7.28" fill="#f38d6d"/>
<rect x="352.73" y="276.23" width="6.41" height="7.28" fill="#f38d6d"/>
<rect x="360.14" y="276.23" width="6.41" height="7.28" fill="#f38d6d"/>
<rect x="367.55" y="276.23" width="6.41" height="7.28" fill="#f38d6d"/>
<rect x="374.96" y="276.23" width="6.41" height="7.28" fill="#fde3d5"/>
<rect x="382.37" y="276.23" width="6.41" height="7.28" fill="#f38d6d"/>
<rect x="389.78" y="276.23" width="6.41" height="7.28" fill="#f38d6d"/>
<rect x="397.19" y="276.23" width="6.41" height="7.28" fill="#f38d6d"/>
<rect x="404.60" y="276.23" width="6.41" height="7.28" fill="#f38d6d"/>
<rect x="412.01" y="276.23" width="6.09" height="7.28" fill="#f38d6d"/>
<text x="421.9" y="282.57" font-size="7.7" fill="#231f20">Platelets</text>
<rect x="27.0" y="284.61" width="391.10" height="7.28" fill="#fff"/>
<rect x="26.69" y="284.61" width="6.41" height="7.28" fill="#80a062"/>
<rect x="34.10" y="284.61" width="6.41" height="7.28" fill="#cf1420"/>
<rect x="41.51" y="284.61" width="6.41" height="7.28" fill="#1b5aa8"/>
<rect x="48.92" y="284.61" width="6.41" height="7.28" fill="#dedede"/>
<rect x="56.33" y="284.61" width="6.41" height="7.28" fill="#dedede"/>
<rect x="63.74" y="284.61" width="6.41" height="7.28" fill="#dedede"/>
<rect x="71.15" y="284.61" width="6.41" height="7.28" fill="#dedede"/>
<rect x="78.56" y="284.61" width="6.41" height="7.28" fill="#f6e11a"/>
<rect x="85.97" y="284.61" width="6.41" height="7.28" fill="#dedede"/>
<rect x="93.38" y="284.61" width="6.41" height="7.28" fill="#6aaedc"/>
<rect x="100.79" y="284.61" width="6.41" height="7.28" fill="#dedede"/>
<rect x="108.20" y="284.61" width="6.41" height="7.28" fill="#dedede"/>
<rect x="115.61" y="284.61" width="6.41" height="7.28" fill="#dedede"/>
<rect x="123.02" y="284.61" width="6.41" height="7.28" fill="#dedede"/>
<rect x="130.43" y="284.61" width="6.41" height="7.28" fill="#2f5c52"/>
<rect x="137.84" y="284.61" width="6.41" height="7.28" fill="#dedede"/>
<rect x="145.25" y="284.61" width="6.41" height="7.28" fill="#f06a45"/>
<rect x="152.66" y="284.61" width="6.41" height="7.28" fill="#e3127f"/>
<rect x="160.07" y="284.61" width="6.41" height="7.28" fill="#dedede"/>
<rect x="167.48" y="284.61" width="6.41" height="7.28" fill="#dedede"/>
<rect x="174.89" y="284.61" width="6.41" height="7.28" fill="#a39bd6"/>
<rect x="182.30" y="284.61" width="6.41" height="7.28" fill="#dedede"/>
<rect x="189.71" y="284.61" width="6.41" height="7.28" fill="#dedede"/>
<rect x="197.12" y="284.61" width="6.41" height="7.28" fill="#dedede"/>
<rect x="204.53" y="284.61" width="6.41" height="7.28" fill="#dedede"/>
<rect x="211.94" y="284.61" width="6.41" height="7.28" fill="#dedede"/>
<rect x="219.35" y="284.61" width="6.41" height="7.28" fill="#dedede"/>
<rect x="226.76" y="284.61" width="6.41" height="7.28" fill="#bf709a"/>
<rect x="234.17" y="284.61" width="6.41" height="7.28" fill="#dedede"/>
<rect x="241.58" y="284.61" width="6.41" height="7.28" fill="#dedede"/>
<rect x="248.99" y="284.61" width="6.41" height="7.28" fill="#dedede"/>
<rect x="256.40" y="284.61" width="6.41" height="7.28" fill="#dedede"/>
<rect x="263.81" y="284.61" width="6.41" height="7.28" fill="#80a062"/>
<rect x="271.22" y="284.61" width="6.41" height="7.28" fill="#dedede"/>
<rect x="278.63" y="284.61" width="6.41" height="7.28" fill="#dedede"/>
<rect x="286.04" y="284.61" width="6.41" height="7.28" fill="#dedede"/>
<rect x="293.45" y="284.61" width="6.41" height="7.28" fill="#dedede"/>
<rect x="300.86" y="284.61" width="6.41" height="7.28" fill="#dedede"/>
<rect x="308.27" y="284.61" width="6.41" height="7.28" fill="#dedede"/>
<rect x="315.68" y="284.61" width="6.41" height="7.28" fill="#dedede"/>
<rect x="323.09" y="284.61" width="6.41" height="7.28" fill="#dedede"/>
<rect x="330.50" y="284.61" width="6.41" height="7.28" fill="#dedede"/>
<rect x="337.91" y="284.61" width="6.41" height="7.28" fill="#dedede"/>
<rect x="345.32" y="284.61" width="6.41" height="7.28" fill="#dedede"/>
<rect x="352.73" y="284.61" width="6.41" height="7.28" fill="#dedede"/>
<rect x="360.14" y="284.61" width="6.41" height="7.28" fill="#dedede"/>
<rect x="367.55" y="284.61" width="6.41" height="7.28" fill="#8a5a30"/>
<rect x="374.96" y="284.61" width="6.41" height="7.28" fill="#dedede"/>
<rect x="382.37" y="284.61" width="6.41" height="7.28" fill="#dedede"/>
<rect x="389.78" y="284.61" width="6.41" height="7.28" fill="#dedede"/>
<rect x="397.19" y="284.61" width="6.41" height="7.28" fill="#dedede"/>
<rect x="404.60" y="284.61" width="6.41" height="7.28" fill="#dedede"/>
<rect x="412.01" y="284.61" width="6.09" height="7.28" fill="#dedede"/>
<text x="421.9" y="290.95" font-size="7.7" fill="#231f20">Prior cancer</text>
<rect x="27.0" y="292.99" width="391.10" height="7.28" fill="#fff"/>
<rect x="26.69" y="292.99" width="6.41" height="7.28" fill="#dedede"/>
<rect x="34.10" y="292.99" width="6.41" height="7.28" fill="#163e6e"/>
<rect x="41.51" y="292.99" width="6.41" height="7.28" fill="#163e6e"/>
<rect x="48.92" y="292.99" width="6.41" height="7.28" fill="#dedede"/>
<rect x="56.33" y="292.99" width="6.41" height="7.28" fill="#dedede"/>
<rect x="63.74" y="292.99" width="6.41" height="7.28" fill="#dedede"/>
<rect x="71.15" y="292.99" width="6.41" height="7.28" fill="#dedede"/>
<rect x="78.56" y="292.99" width="6.41" height="7.28" fill="#dedede"/>
<rect x="85.97" y="292.99" width="6.41" height="7.28" fill="#dedede"/>
<rect x="93.38" y="292.99" width="6.41" height="7.28" fill="#dedede"/>
<rect x="100.79" y="292.99" width="6.41" height="7.28" fill="#dedede"/>
<rect x="108.20" y="292.99" width="6.41" height="7.28" fill="#dedede"/>
<rect x="115.61" y="292.99" width="6.41" height="7.28" fill="#dedede"/>
<rect x="123.02" y="292.99" width="6.41" height="7.28" fill="#dedede"/>
<rect x="130.43" y="292.99" width="6.41" height="7.28" fill="#7b2468"/>
<rect x="137.84" y="292.99" width="6.41" height="7.28" fill="#dedede"/>
<rect x="145.25" y="292.99" width="6.41" height="7.28" fill="#7b2468"/>
<rect x="152.66" y="292.99" width="6.41" height="7.28" fill="#f5a011"/>
<rect x="160.07" y="292.99" width="6.41" height="7.28" fill="#dedede"/>
<rect x="167.48" y="292.99" width="6.41" height="7.28" fill="#dedede"/>
<rect x="174.89" y="292.99" width="6.41" height="7.28" fill="#7b2468"/>
<rect x="182.30" y="292.99" width="6.41" height="7.28" fill="#dedede"/>
<rect x="189.71" y="292.99" width="6.41" height="7.28" fill="#dedede"/>
<rect x="197.12" y="292.99" width="6.41" height="7.28" fill="#dedede"/>
<rect x="204.53" y="292.99" width="6.41" height="7.28" fill="#dedede"/>
<rect x="211.94" y="292.99" width="6.41" height="7.28" fill="#dedede"/>
<rect x="219.35" y="292.99" width="6.41" height="7.28" fill="#dedede"/>
<rect x="226.76" y="292.99" width="6.41" height="7.28" fill="#dedede"/>
<rect x="234.17" y="292.99" width="6.41" height="7.28" fill="#dedede"/>
<rect x="241.58" y="292.99" width="6.41" height="7.28" fill="#dedede"/>
<rect x="248.99" y="292.99" width="6.41" height="7.28" fill="#dedede"/>
<rect x="256.40" y="292.99" width="6.41" height="7.28" fill="#dedede"/>
<rect x="263.81" y="292.99" width="6.41" height="7.28" fill="#f5a011"/>
<rect x="271.22" y="292.99" width="6.41" height="7.28" fill="#dedede"/>
<rect x="278.63" y="292.99" width="6.41" height="7.28" fill="#dedede"/>
<rect x="286.04" y="292.99" width="6.41" height="7.28" fill="#dedede"/>
<rect x="293.45" y="292.99" width="6.41" height="7.28" fill="#dedede"/>
<rect x="300.86" y="292.99" width="6.41" height="7.28" fill="#dedede"/>
<rect x="308.27" y="292.99" width="6.41" height="7.28" fill="#dedede"/>
<rect x="315.68" y="292.99" width="6.41" height="7.28" fill="#dedede"/>
<rect x="323.09" y="292.99" width="6.41" height="7.28" fill="#dedede"/>
<rect x="330.50" y="292.99" width="6.41" height="7.28" fill="#dedede"/>
<rect x="337.91" y="292.99" width="6.41" height="7.28" fill="#dedede"/>
<rect x="345.32" y="292.99" width="6.41" height="7.28" fill="#dedede"/>
<rect x="352.73" y="292.99" width="6.41" height="7.28" fill="#dedede"/>
<rect x="360.14" y="292.99" width="6.41" height="7.28" fill="#dedede"/>
<rect x="367.55" y="292.99" width="6.41" height="7.28" fill="#7b2468"/>
<rect x="374.96" y="292.99" width="6.41" height="7.28" fill="#dedede"/>
<rect x="382.37" y="292.99" width="6.41" height="7.28" fill="#dedede"/>
<rect x="389.78" y="292.99" width="6.41" height="7.28" fill="#dedede"/>
<rect x="397.19" y="292.99" width="6.41" height="7.28" fill="#dedede"/>
<rect x="404.60" y="292.99" width="6.41" height="7.28" fill="#dedede"/>
<rect x="412.01" y="292.99" width="6.09" height="7.28" fill="#dedede"/>
<text x="421.9" y="299.33" font-size="7.7" fill="#231f20">Prior Treatment</text>
<text x="18.0" y="319.3" font-size="8.3" font-weight="bold" fill="#111">BM available</text>
<rect x="18.0" y="323.3" width="10.6" height="10.6" fill="#dfdfdf"/>
<text x="31.6" y="332.0" font-size="7.8" letter-spacing="0.25" fill="#231f20">N</text>
<rect x="18.0" y="335.9" width="10.6" height="10.6" fill="#d7364b"/>
<text x="31.6" y="343.3" font-size="7.8" letter-spacing="0.25" fill="#231f20">Y</text>
<text x="86.3" y="319.3" font-size="8.3" font-weight="bold" fill="#111">Sex</text>
<rect x="86.3" y="323.3" width="10.6" height="10.6" fill="#626262"/>
<text x="99.89999999999999" y="332.0" font-size="7.8" letter-spacing="0.25" fill="#231f20">F</text>
<rect x="86.3" y="335.9" width="10.6" height="10.6" fill="#a9bf82"/>
<text x="99.89999999999999" y="343.3" font-size="7.8" letter-spacing="0.25" fill="#231f20">M</text>
<text x="119.0" y="319.3" font-size="8.3" font-weight="bold" fill="#111">Age</text>
<rect x="119.0" y="323.3" width="10.6" height="10.6" fill="#f9c6bf"/>
<text x="132.6" y="332.0" font-size="7.8" letter-spacing="0.25" fill="#231f20">&lt; 65</text>
<rect x="119.0" y="335.9" width="10.6" height="10.6" fill="#c8177f"/>
<text x="132.6" y="343.3" font-size="7.8" letter-spacing="0.25" fill="#231f20">≥ 65</text>
<text x="164.4" y="319.3" font-size="8.3" font-weight="bold" fill="#111">WBC</text>
<rect x="164.4" y="323.3" width="10.6" height="10.6" fill="#6cb0df"/>
<text x="178.0" y="332.0" font-size="7.8" letter-spacing="0.25" fill="#231f20">3.2-11.5</text>
<rect x="164.4" y="335.9" width="10.6" height="10.6" fill="#1f6cc0"/>
<text x="178.0" y="343.3" font-size="7.8" letter-spacing="0.25" fill="#231f20">&gt; 11.5</text>
<text x="226.3" y="319.3" font-size="8.3" font-weight="bold" fill="#111">Hgb</text>
<rect x="226.3" y="323.3" width="10.6" height="10.6" fill="#ebf4e5"/>
<text x="239.9" y="332.0" font-size="7.8" letter-spacing="0.25" fill="#231f20">&lt; 11</text>
<rect x="226.3" y="335.9" width="10.6" height="10.6" fill="#2aa54a"/>
<text x="239.9" y="343.3" font-size="7.8" letter-spacing="0.25" fill="#231f20">≥ 11</text>
<text x="272.4" y="319.3" font-size="8.3" font-weight="bold" fill="#111">RDW</text>
<rect x="272.4" y="323.3" width="10.6" height="10.6" fill="#a19bd6"/>
<text x="286.0" y="332.0" font-size="7.8" letter-spacing="0.25" fill="#231f20">11-14</text>
<rect x="272.4" y="335.9" width="10.6" height="10.6" fill="#6147a6"/>
<text x="286.0" y="343.3" font-size="7.8" letter-spacing="0.25" fill="#231f20">≥ 14</text>
<text x="323.8" y="319.3" font-size="8.3" font-weight="bold" fill="#111">Platelets</text>
<rect x="323.8" y="323.3" width="10.6" height="10.6" fill="#fde3d5"/>
<text x="337.40000000000003" y="332.0" font-size="7.8" letter-spacing="0.25" fill="#231f20">≤ 150</text>
<rect x="323.8" y="335.9" width="10.6" height="10.6" fill="#f38d6d"/>
<text x="337.40000000000003" y="343.3" font-size="7.8" letter-spacing="0.25" fill="#231f20">151-450</text>
<rect x="323.8" y="348.5" width="10.6" height="10.6" fill="#dc1d21"/>
<text x="337.40000000000003" y="355.7" font-size="7.8" letter-spacing="0.25" fill="#231f20">&gt; 450</text>
<text x="386.3" y="319.3" font-size="8.3" font-weight="bold" textLength="46.6" lengthAdjust="spacingAndGlyphs" fill="#111">Prior cancer</text>
<rect x="386.3" y="323.4" width="10.2" height="10.2" fill="#f06a45"/>
<text x="399.3" y="332.2" font-size="7.8" fill="#231f20">ALL</text>
<rect x="386.3" y="335.88" width="10.2" height="10.2" fill="#cf1420"/>
<text x="399.3" y="344.59999999999997" font-size="7.8" fill="#231f20">CML</text>
<rect x="386.3" y="348.35999999999996" width="10.2" height="10.2" fill="#a39bd6"/>
<text x="399.3" y="357.0" font-size="7.8" fill="#231f20">HL</text>
<rect x="386.3" y="360.84" width="10.2" height="10.2" fill="#e3127f"/>
<text x="399.3" y="369.4" font-size="7.8" fill="#231f20">Breast</text>
<rect x="386.3" y="373.32" width="10.2" height="10.2" fill="#bf709a"/>
<text x="399.3" y="381.8" font-size="7.8" fill="#231f20">Skin</text>
<rect x="386.3" y="385.79999999999995" width="10.2" height="10.2" fill="#80a062"/>
<text x="399.3" y="394.2" font-size="7.8" fill="#231f20">Prostate</text>
<rect x="386.3" y="398.28" width="10.2" height="10.2" fill="#1b5aa8"/>
<text x="399.3" y="406.6" font-size="7.8" fill="#231f20">Bladder</text>
<rect x="386.3" y="410.76" width="10.2" height="10.2" fill="#2f5c52"/>
<text x="399.3" y="419.0" font-size="7.8" fill="#231f20">Testicular</text>
<rect x="386.3" y="423.24" width="10.2" height="10.2" fill="#8a5a30"/>
<text x="399.3" y="431.4" font-size="7.8" fill="#231f20">Tongue</text>
<rect x="386.3" y="435.71999999999997" width="10.2" height="10.2" fill="#f6e11a"/>
<text x="399.3" y="443.8" font-size="7.8" fill="#231f20">TGCT</text>
<rect x="386.3" y="448.2" width="10.2" height="10.2" fill="#6aaedc"/>
<text x="399.3" y="456.2" font-size="7.8" fill="#231f20">Adenocarcinoma (unsp)</text>
<text x="15.8" y="374.8" font-size="8.3" font-weight="bold" fill="#111">Prior Treatment</text>
<rect x="15.4" y="380.8" width="12.2" height="12.2" fill="#163e6e"/>
<text x="31.200000000000003" y="389.2" font-size="7.8" fill="#231f20">Chemotherapy</text>
<rect x="15.4" y="396.40000000000003" width="12.2" height="12.2" fill="#f5a011"/>
<text x="31.200000000000003" y="404.8" font-size="7.8" fill="#231f20">Radiotherapy</text>
<rect x="15.4" y="412.0" width="12.2" height="12.2" fill="#7b2468"/>
<text x="31.200000000000003" y="420.4" font-size="7.8" fill="#231f20">Chemo &amp; Radiotherapy</text>
<text x="0.3" y="503.0" font-size="12.5" font-weight="bold" fill="#000">B</text>
<line x1="32.0" y1="509.8" x2="32.0" y2="655.9" stroke="#1e1e1e" stroke-width="1.3"/>
<line x1="31.35" y1="655.25" x2="186.5" y2="655.25" stroke="#1e1e1e" stroke-width="1.3"/>
<line x1="28.8" y1="648.70" x2="32.0" y2="648.70" stroke="#231f20" stroke-width="0.8"/>
<text x="25.1" y="651.20" font-size="8.8" text-anchor="end" fill="#231f20">0</text>
<line x1="39.00" y1="655.3" x2="39.00" y2="658.4" stroke="#231f20" stroke-width="0.8"/>
<text x="38.60" y="669.2" font-size="8.8" text-anchor="middle" fill="#231f20">0</text>
<line x1="28.8" y1="619.30" x2="32.0" y2="619.30" stroke="#231f20" stroke-width="0.8"/>
<text x="25.1" y="621.80" font-size="8.8" text-anchor="end" fill="#231f20">10</text>
<line x1="70.20" y1="655.3" x2="70.20" y2="658.4" stroke="#231f20" stroke-width="0.8"/>
<text x="69.80" y="669.2" font-size="8.8" text-anchor="middle" fill="#231f20">10</text>
<line x1="28.8" y1="589.90" x2="32.0" y2="589.90" stroke="#231f20" stroke-width="0.8"/>
<text x="25.1" y="592.40" font-size="8.8" text-anchor="end" fill="#231f20">20</text>
<line x1="101.40" y1="655.3" x2="101.40" y2="658.4" stroke="#231f20" stroke-width="0.8"/>
<text x="101.00" y="669.2" font-size="8.8" text-anchor="middle" fill="#231f20">20</text>
<line x1="28.8" y1="560.50" x2="32.0" y2="560.50" stroke="#231f20" stroke-width="0.8"/>
<text x="25.1" y="563.00" font-size="8.8" text-anchor="end" fill="#231f20">30</text>
<line x1="132.60" y1="655.3" x2="132.60" y2="658.4" stroke="#231f20" stroke-width="0.8"/>
<text x="132.20" y="669.2" font-size="8.8" text-anchor="middle" fill="#231f20">30</text>
<line x1="28.8" y1="531.10" x2="32.0" y2="531.10" stroke="#231f20" stroke-width="0.8"/>
<text x="25.1" y="533.60" font-size="8.8" text-anchor="end" fill="#231f20">40</text>
<line x1="163.80" y1="655.3" x2="163.80" y2="658.4" stroke="#231f20" stroke-width="0.8"/>
<text x="163.40" y="669.2" font-size="8.8" text-anchor="middle" fill="#231f20">40</text>
<circle cx="152.88" cy="530.81" r="2.0" fill="rgba(218,140,120,0.7)"/>
<circle cx="78.81" cy="600.48" r="2.0" fill="rgba(218,140,120,0.7)"/>
<circle cx="102.21" cy="592.55" r="2.0" fill="rgba(218,140,120,0.7)"/>
<circle cx="106.70" cy="593.72" r="2.0" fill="rgba(218,140,120,0.7)"/>
<circle cx="118.56" cy="595.49" r="2.0" fill="rgba(218,140,120,0.7)"/>
<circle cx="38.81" cy="613.89" r="2.0" fill="rgba(190,176,170,0.85)"/>
<circle cx="53.79" cy="629.21" r="2.0" fill="rgba(214,130,124,0.7)"/>
<circle cx="39.00" cy="629.21" r="2.0" fill="rgba(205,80,70,0.75)"/>
<circle cx="39.00" cy="632.53" r="2.0" fill="rgba(205,80,70,0.75)"/>
<circle cx="48.11" cy="638.00" r="2.0" fill="rgba(210,105,100,0.75)"/>
<circle cx="48.11" cy="640.41" r="2.0" fill="rgba(210,105,100,0.75)"/>
<circle cx="53.79" cy="638.00" r="2.0" fill="rgba(214,130,124,0.7)"/>
<circle cx="53.79" cy="640.41" r="2.0" fill="rgba(214,130,124,0.7)"/>
<circle cx="53.79" cy="642.29" r="2.0" fill="rgba(214,130,124,0.7)"/>
<circle cx="56.91" cy="645.79" r="2.0" fill="rgba(190,176,170,0.85)"/>
<circle cx="46.89" cy="644.61" r="2.0" fill="rgba(170,120,70,0.6)"/>
<circle cx="45.55" cy="646.05" r="2.0" fill="rgba(170,120,70,0.6)"/>
<circle cx="38.69" cy="648.99" r="2.0" fill="rgba(170,120,70,0.6)"/>
<circle cx="40.56" cy="647.82" r="2.0" fill="rgba(226,30,24,0.8)"/>
<circle cx="41.50" cy="646.05" r="2.0" fill="rgba(226,30,24,0.8)"/>
<circle cx="42.74" cy="647.23" r="2.0" fill="rgba(226,30,24,0.8)"/>
<circle cx="43.68" cy="645.47" r="2.0" fill="rgba(226,30,24,0.8)"/>
<circle cx="40.25" cy="645.47" r="2.0" fill="rgba(226,30,24,0.8)"/>
<circle cx="42.12" cy="648.41" r="2.0" fill="rgba(226,30,24,0.8)"/>
<circle cx="44.30" cy="646.94" r="2.0" fill="rgba(226,30,24,0.8)"/>
<circle cx="41.81" cy="644.58" r="2.0" fill="rgba(226,30,24,0.8)"/>
<circle cx="39.94" cy="646.94" r="2.0" fill="rgba(226,30,24,0.8)"/>
<circle cx="43.06" cy="646.35" r="2.0" fill="rgba(226,30,24,0.8)"/>
<text x="39.6" y="529.4" font-size="8.3" fill="#231f20">cor = 0.91 (0.83,1 95%CI)</text>
<text x="39.6" y="538.9" font-size="8.3" font-style="italic" fill="#231f20">P</text>
<path d="M51.60 533.4L46.30 535.75L51.60 538.1" fill="none" stroke="#231f20" stroke-width="0.75"/>
<text x="53.7" y="538.9" font-size="8.3" fill="#231f20">.001</text>
<text x="109.25" y="683.7" font-size="10" font-weight="bold" text-anchor="middle" textLength="33.5" lengthAdjust="spacingAndGlyphs" fill="#231f20">% VAF PB</text>
<text transform="translate(8.80,582.8) rotate(-90)" x="0" y="0" font-size="10" font-weight="bold" text-anchor="middle" textLength="34.0" lengthAdjust="spacingAndGlyphs" fill="#231f20">% VAF BM</text>
<text x="203.3" y="503.0" font-size="12.5" font-weight="bold" fill="#000">C</text>
<line x1="235.0" y1="509.8" x2="235.0" y2="655.9" stroke="#1e1e1e" stroke-width="1.3"/>
<line x1="234.35" y1="655.25" x2="390.5" y2="655.25" stroke="#1e1e1e" stroke-width="1.3"/>
<line x1="231.8" y1="649.40" x2="235.0" y2="649.40" stroke="#231f20" stroke-width="0.8"/>
<text x="228.1" y="651.90" font-size="8.8" text-anchor="end" fill="#231f20">0</text>
<line x1="242.00" y1="655.3" x2="242.00" y2="658.4" stroke="#231f20" stroke-width="0.8"/>
<text x="241.60" y="669.2" font-size="8.8" text-anchor="middle" fill="#231f20">0</text>
<line x1="231.8" y1="620.00" x2="235.0" y2="620.00" stroke="#231f20" stroke-width="0.8"/>
<text x="228.1" y="622.50" font-size="8.8" text-anchor="end" fill="#231f20">10</text>
<line x1="273.20" y1="655.3" x2="273.20" y2="658.4" stroke="#231f20" stroke-width="0.8"/>
<text x="272.80" y="669.2" font-size="8.8" text-anchor="middle" fill="#231f20">10</text>
<line x1="231.8" y1="590.60" x2="235.0" y2="590.60" stroke="#231f20" stroke-width="0.8"/>
<text x="228.1" y="593.10" font-size="8.8" text-anchor="end" fill="#231f20">20</text>
<line x1="304.40" y1="655.3" x2="304.40" y2="658.4" stroke="#231f20" stroke-width="0.8"/>
<text x="304.00" y="669.2" font-size="8.8" text-anchor="middle" fill="#231f20">20</text>
<line x1="231.8" y1="561.20" x2="235.0" y2="561.20" stroke="#231f20" stroke-width="0.8"/>
<text x="228.1" y="563.70" font-size="8.8" text-anchor="end" fill="#231f20">30</text>
<line x1="335.60" y1="655.3" x2="335.60" y2="658.4" stroke="#231f20" stroke-width="0.8"/>
<text x="335.20" y="669.2" font-size="8.8" text-anchor="middle" fill="#231f20">30</text>
<line x1="231.8" y1="531.80" x2="235.0" y2="531.80" stroke="#231f20" stroke-width="0.8"/>
<text x="228.1" y="534.30" font-size="8.8" text-anchor="end" fill="#231f20">40</text>
<line x1="366.80" y1="655.3" x2="366.80" y2="658.4" stroke="#231f20" stroke-width="0.8"/>
<text x="366.40" y="669.2" font-size="8.8" text-anchor="middle" fill="#231f20">40</text>
<circle cx="323.31" cy="582.07" r="2.0" fill="rgba(160,158,200,0.85)"/>
<circle cx="256.98" cy="629.50" r="2.0" fill="rgba(160,158,200,0.85)"/>
<circle cx="251.24" cy="635.49" r="2.0" fill="rgba(160,158,200,0.85)"/>
<circle cx="251.24" cy="636.99" r="2.0" fill="rgba(160,158,200,0.85)"/>
<circle cx="250.74" cy="640.49" r="2.0" fill="rgba(140,132,205,0.7)"/>
<circle cx="251.48" cy="642.26" r="2.0" fill="rgba(140,132,205,0.7)"/>
<circle cx="256.98" cy="636.49" r="2.0" fill="rgba(140,132,205,0.7)"/>
<circle cx="258.50" cy="636.99" r="2.0" fill="rgba(120,110,200,0.7)"/>
<circle cx="260.00" cy="637.26" r="2.0" fill="rgba(140,132,205,0.7)"/>
<circle cx="256.51" cy="638.49" r="2.0" fill="rgba(140,132,205,0.7)"/>
<circle cx="248.55" cy="646.90" r="2.0" fill="rgba(160,158,200,0.85)"/>
<circle cx="242.19" cy="649.19" r="2.0" fill="rgba(120,110,200,0.7)"/>
<circle cx="243.25" cy="648.22" r="2.0" fill="rgba(45,35,160,0.75)"/>
<circle cx="244.18" cy="646.75" r="2.0" fill="rgba(45,35,160,0.75)"/>
<circle cx="245.12" cy="645.87" r="2.0" fill="rgba(45,35,160,0.75)"/>
<circle cx="246.06" cy="644.99" r="2.0" fill="rgba(45,35,160,0.75)"/>
<circle cx="244.50" cy="644.40" r="2.0" fill="rgba(45,35,160,0.75)"/>
<circle cx="246.68" cy="646.75" r="2.0" fill="rgba(45,35,160,0.75)"/>
<circle cx="242.62" cy="646.46" r="2.0" fill="rgba(120,110,200,0.7)"/>
<circle cx="245.43" cy="647.93" r="2.0" fill="rgba(45,35,160,0.75)"/>
<circle cx="247.62" cy="644.99" r="2.0" fill="rgba(120,110,200,0.7)"/>
<text x="242.6" y="529.4" font-size="8.3" fill="#231f20">cor = 0.98 (0.96,1 95%CI)</text>
<text x="242.6" y="538.9" font-size="8.3" font-style="italic" fill="#231f20">P</text>
<path d="M254.60 533.4L249.30 535.75L254.60 538.1" fill="none" stroke="#231f20" stroke-width="0.75"/>
<text x="256.7" y="538.9" font-size="8.3" fill="#231f20">.001</text>
<text x="312.75" y="683.7" font-size="10" font-weight="bold" text-anchor="middle" textLength="58.5" lengthAdjust="spacingAndGlyphs" fill="#231f20">% VAF at baseline</text>
<text transform="translate(211.80,582.8) rotate(-90)" x="0" y="0" font-size="10" font-weight="bold" text-anchor="middle" textLength="65.5" lengthAdjust="spacingAndGlyphs" fill="#231f20">% VAF after surgery</text>
</svg>
</body></html>
